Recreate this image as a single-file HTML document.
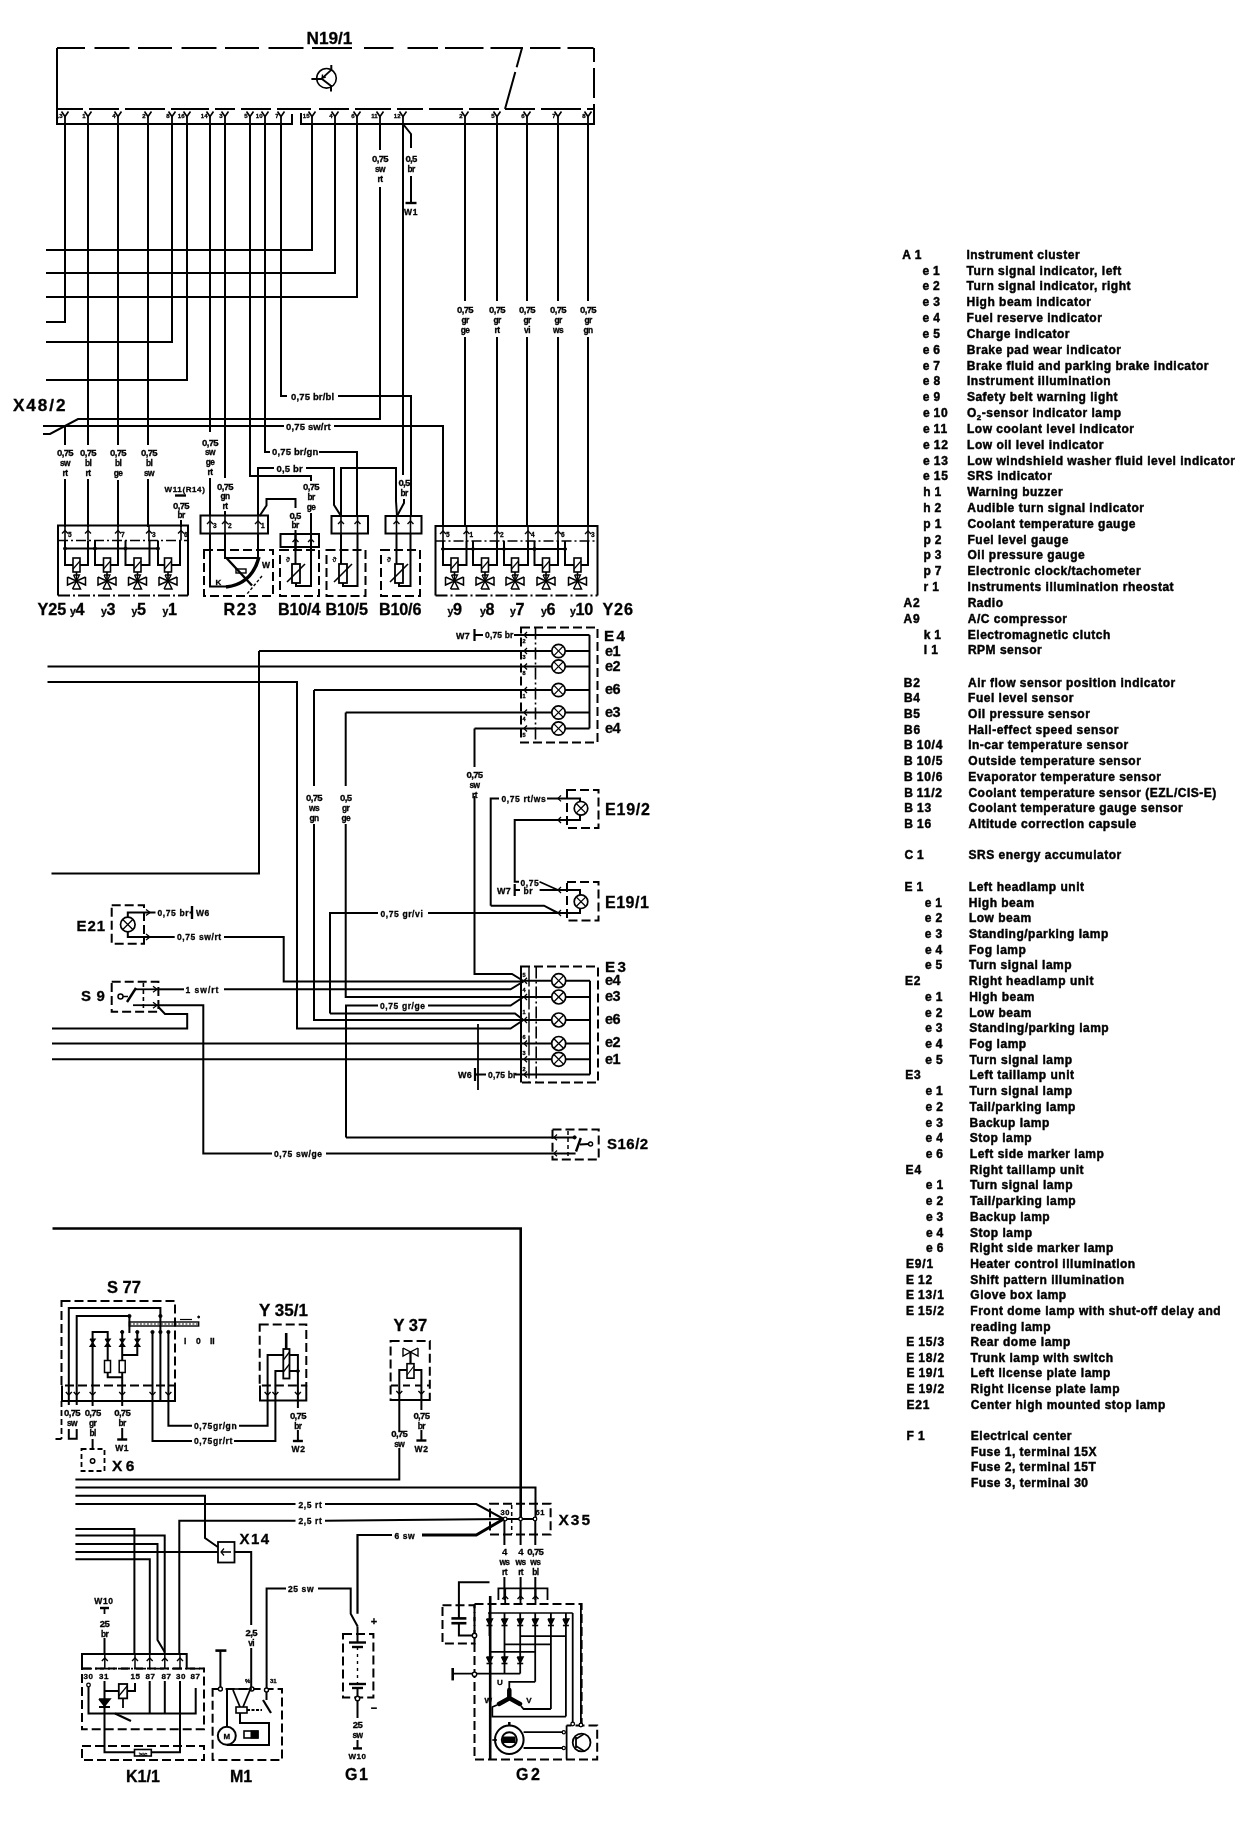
<!DOCTYPE html>
<html><head><meta charset="utf-8"><style>
html,body{margin:0;padding:0;background:#fff;}
body{width:1247px;height:1828px;overflow:hidden;}
svg{display:block;will-change:transform;}
svg text{font-family:"Liberation Sans",sans-serif;fill:#000;stroke:#000;stroke-width:0.3px;}
svg text.n{letter-spacing:0.6px;}
svg text.m{letter-spacing:0.15px;}
svg text.n0{letter-spacing:-0.7px;}
svg text.n1{letter-spacing:-0.6px;}
svg g.leg text{letter-spacing:0.5px;stroke:#000;stroke-width:0.45px;}
</style></head><body>
<svg width="1247" height="1828" viewBox="0 0 1247 1828" stroke="#000" stroke-linecap="butt" stroke-linejoin="miter">
<text x="306.5" y="44" font-size="17.2" font-weight="bold">N19/1</text>
<path d="M57 48 L303.5 48" stroke-width="2" fill="none" stroke-dasharray="28 9.5 35 8.5 34 9.5 35 8.5 34 9.5 36 9"/>
<path d="M312 48 L352 48" stroke-width="2" fill="none"/>
<path d="M364 48 L594 48" stroke-width="2" fill="none" stroke-dasharray="29.5 14 30.5 7 38.5 7 32.5 7 30.5 7 26"/>
<path d="M57 48 L57 109" stroke-width="2" fill="none"/>
<path d="M594 48 L594 109" stroke-width="2" fill="none" stroke-dasharray="14 6 30 6 20"/>
<path d="M57 109 L594 109" stroke-width="2" fill="none" stroke-dasharray="26 6 30 6 40 6 38 6 20 6 30 6 34 8 30 6 36 6 26 6 34 6 30 6 30 6 40 6 40 6"/>
<path d="M522 48 L505 109" stroke-width="2" fill="none" stroke-dasharray="20 5 40"/>
<circle cx="326.5" cy="78.3" r="9.8" stroke-width="1.6" fill="none"/>
<path d="M311.4 79 L322 79" stroke-width="2" fill="none"/>
<path d="M322 78.3 L331.3 69.8" stroke-width="1.8" fill="none"/>
<path d="M322 79 L330.5 85.5" stroke-width="2" fill="none"/>
<path d="M331.3 65 L331.3 70.5" stroke-width="2" fill="none"/>
<path d="M331 85 L331 91.5" stroke-width="2" fill="none"/>
<path d="M322.5 74.5 L322.2 78 L325.8 77" stroke-width="1.4" fill="none"/>
<path d="M57 109 L57 124 L292 124 L292 114" stroke-width="2" fill="none"/>
<path d="M301 113 L301 124 L594 124 L594 109" stroke-width="2" fill="none"/>
<path d="M61.5 111.5 L65 116.5 L68.5 111.5" stroke-width="1.6" fill="none"/>
<path d="M65 116.5 L65 124" stroke-width="1.8" fill="none"/>
<text x="62.5" y="117.5" font-size="6" font-weight="bold" text-anchor="end">13</text>
<path d="M84.5 111.5 L88 116.5 L91.5 111.5" stroke-width="1.6" fill="none"/>
<path d="M88 116.5 L88 124" stroke-width="1.8" fill="none"/>
<text x="85.5" y="117.5" font-size="6" font-weight="bold" text-anchor="end">1</text>
<path d="M114.5 111.5 L118 116.5 L121.5 111.5" stroke-width="1.6" fill="none"/>
<path d="M118 116.5 L118 124" stroke-width="1.8" fill="none"/>
<text x="115.5" y="117.5" font-size="6" font-weight="bold" text-anchor="end">4</text>
<path d="M144.5 111.5 L148 116.5 L151.5 111.5" stroke-width="1.6" fill="none"/>
<path d="M148 116.5 L148 124" stroke-width="1.8" fill="none"/>
<text x="145.5" y="117.5" font-size="6" font-weight="bold" text-anchor="end">2</text>
<path d="M168.5 111.5 L172 116.5 L175.5 111.5" stroke-width="1.6" fill="none"/>
<path d="M172 116.5 L172 124" stroke-width="1.8" fill="none"/>
<text x="169.5" y="117.5" font-size="6" font-weight="bold" text-anchor="end">8</text>
<path d="M183.5 111.5 L187 116.5 L190.5 111.5" stroke-width="1.6" fill="none"/>
<path d="M187 116.5 L187 124" stroke-width="1.8" fill="none"/>
<text x="184.5" y="117.5" font-size="6" font-weight="bold" text-anchor="end">16</text>
<path d="M206.5 111.5 L210 116.5 L213.5 111.5" stroke-width="1.6" fill="none"/>
<path d="M210 116.5 L210 124" stroke-width="1.8" fill="none"/>
<text x="207.5" y="117.5" font-size="6" font-weight="bold" text-anchor="end">14</text>
<path d="M221.5 111.5 L225 116.5 L228.5 111.5" stroke-width="1.6" fill="none"/>
<path d="M225 116.5 L225 124" stroke-width="1.8" fill="none"/>
<text x="222.5" y="117.5" font-size="6" font-weight="bold" text-anchor="end">3</text>
<path d="M246.5 111.5 L250 116.5 L253.5 111.5" stroke-width="1.6" fill="none"/>
<path d="M250 116.5 L250 124" stroke-width="1.8" fill="none"/>
<text x="247.5" y="117.5" font-size="6" font-weight="bold" text-anchor="end">5</text>
<path d="M261.5 111.5 L265 116.5 L268.5 111.5" stroke-width="1.6" fill="none"/>
<path d="M265 116.5 L265 124" stroke-width="1.8" fill="none"/>
<text x="262.5" y="117.5" font-size="6" font-weight="bold" text-anchor="end">10</text>
<path d="M277.5 111.5 L281 116.5 L284.5 111.5" stroke-width="1.6" fill="none"/>
<path d="M281 116.5 L281 124" stroke-width="1.8" fill="none"/>
<text x="278.5" y="117.5" font-size="6" font-weight="bold" text-anchor="end">7</text>
<path d="M308.5 111.5 L312 116.5 L315.5 111.5" stroke-width="1.6" fill="none"/>
<path d="M312 116.5 L312 124" stroke-width="1.8" fill="none"/>
<text x="309.5" y="117.5" font-size="6" font-weight="bold" text-anchor="end">15</text>
<path d="M331.5 111.5 L335 116.5 L338.5 111.5" stroke-width="1.6" fill="none"/>
<path d="M335 116.5 L335 124" stroke-width="1.8" fill="none"/>
<text x="332.5" y="117.5" font-size="6" font-weight="bold" text-anchor="end">4</text>
<path d="M353.5 111.5 L357 116.5 L360.5 111.5" stroke-width="1.6" fill="none"/>
<path d="M357 116.5 L357 124" stroke-width="1.8" fill="none"/>
<text x="354.5" y="117.5" font-size="6" font-weight="bold" text-anchor="end">6</text>
<path d="M376.5 111.5 L380 116.5 L383.5 111.5" stroke-width="1.6" fill="none"/>
<path d="M380 116.5 L380 124" stroke-width="1.8" fill="none"/>
<text x="377.5" y="117.5" font-size="6" font-weight="bold" text-anchor="end">11</text>
<path d="M399.5 111.5 L403 116.5 L406.5 111.5" stroke-width="1.6" fill="none"/>
<path d="M403 116.5 L403 124" stroke-width="1.8" fill="none"/>
<text x="400.5" y="117.5" font-size="6" font-weight="bold" text-anchor="end">12</text>
<path d="M461.5 111.5 L465 116.5 L468.5 111.5" stroke-width="1.6" fill="none"/>
<path d="M465 116.5 L465 124" stroke-width="1.8" fill="none"/>
<text x="462.5" y="117.5" font-size="6" font-weight="bold" text-anchor="end">2</text>
<path d="M493.5 111.5 L497 116.5 L500.5 111.5" stroke-width="1.6" fill="none"/>
<path d="M497 116.5 L497 124" stroke-width="1.8" fill="none"/>
<text x="494.5" y="117.5" font-size="6" font-weight="bold" text-anchor="end">5</text>
<path d="M523.5 111.5 L527 116.5 L530.5 111.5" stroke-width="1.6" fill="none"/>
<path d="M527 116.5 L527 124" stroke-width="1.8" fill="none"/>
<text x="524.5" y="117.5" font-size="6" font-weight="bold" text-anchor="end">6</text>
<path d="M554.5 111.5 L558 116.5 L561.5 111.5" stroke-width="1.6" fill="none"/>
<path d="M558 116.5 L558 124" stroke-width="1.8" fill="none"/>
<text x="555.5" y="117.5" font-size="6" font-weight="bold" text-anchor="end">7</text>
<path d="M584.5 111.5 L588 116.5 L591.5 111.5" stroke-width="1.6" fill="none"/>
<path d="M588 116.5 L588 124" stroke-width="1.8" fill="none"/>
<text x="585.5" y="117.5" font-size="6" font-weight="bold" text-anchor="end">8</text>
<path d="M65 124 L65 322 L46 322" stroke-width="2" fill="none"/>
<path d="M88 124 L88 445" stroke-width="2" fill="none"/>
<path d="M88 479 L88 527" stroke-width="2" fill="none"/>
<path d="M118 124 L118 445" stroke-width="2" fill="none"/>
<path d="M118 480 L118 527" stroke-width="2" fill="none"/>
<path d="M148 124 L148 445" stroke-width="2" fill="none"/>
<path d="M148 479 L148 527" stroke-width="2" fill="none"/>
<path d="M172 124 L172 342 L46 342" stroke-width="2" fill="none"/>
<path d="M187 124 L187 380 L46 380" stroke-width="2" fill="none"/>
<path d="M210 124 L210 432" stroke-width="2" fill="none"/>
<path d="M210 478 L210 516" stroke-width="2" fill="none"/>
<path d="M225 124 L225 478" stroke-width="2" fill="none"/>
<path d="M225 511 L225 516" stroke-width="2" fill="none"/>
<path d="M250 124 L250 476 L311 476 L311 481" stroke-width="2" fill="none"/>
<path d="M311 513 L311 535" stroke-width="2" fill="none"/>
<path d="M265 124 L265 452 L270 452" stroke-width="2" fill="none"/>
<path d="M319 452 L357 452 L357 516" stroke-width="2" fill="none"/>
<path d="M281 124 L281 396 L287 396" stroke-width="2" fill="none"/>
<path d="M338 396 L411 396 L411 516" stroke-width="2" fill="none"/>
<path d="M312 124 L312 250 L46 250" stroke-width="2" fill="none"/>
<path d="M335 124 L335 273 L46 273" stroke-width="2" fill="none"/>
<path d="M357 124 L357 297 L46 297" stroke-width="2" fill="none"/>
<path d="M380 124 L380 150" stroke-width="2" fill="none"/>
<path d="M380 187 L380 419 L78 419 L50 434 L43 434" stroke-width="2" fill="none"/>
<path d="M403 124 L403 475" stroke-width="2" fill="none"/>
<path d="M404 499 L404 503 L397 516" stroke-width="2" fill="none"/>
<path d="M403 124 L411 134 L411 148" stroke-width="2" fill="none"/>
<path d="M411 176 L411 203" stroke-width="2" fill="none"/>
<path d="M405.5 203 L416.5 203" stroke-width="2.4" fill="none"/>
<text x="411" y="215" font-size="8.5" font-weight="bold" text-anchor="middle" class="n">W1</text>
<text x="380" y="161.5" font-size="9.6" font-weight="bold" text-anchor="middle" class="n0">0,75</text>
<text x="380" y="171.7" font-size="8.4" font-weight="bold" text-anchor="middle" class="n1">sw</text>
<text x="380" y="181.9" font-size="8.4" font-weight="bold" text-anchor="middle" class="n1">rt</text>
<text x="411" y="161.5" font-size="9.6" font-weight="bold" text-anchor="middle" class="n0">0,5</text>
<text x="411" y="171.7" font-size="8.4" font-weight="bold" text-anchor="middle" class="n1">br</text>
<path d="M465 124 L465 301" stroke-width="2" fill="none"/>
<path d="M465 337 L465 527" stroke-width="2" fill="none"/>
<text x="465" y="313" font-size="9.6" font-weight="bold" text-anchor="middle" class="n0">0,75</text>
<text x="465" y="323.2" font-size="8.4" font-weight="bold" text-anchor="middle" class="n1">gr</text>
<text x="465" y="333.4" font-size="8.4" font-weight="bold" text-anchor="middle" class="n1">ge</text>
<path d="M497 124 L497 301" stroke-width="2" fill="none"/>
<path d="M497 337 L497 527" stroke-width="2" fill="none"/>
<text x="497" y="313" font-size="9.6" font-weight="bold" text-anchor="middle" class="n0">0,75</text>
<text x="497" y="323.2" font-size="8.4" font-weight="bold" text-anchor="middle" class="n1">gr</text>
<text x="497" y="333.4" font-size="8.4" font-weight="bold" text-anchor="middle" class="n1">rt</text>
<path d="M527 124 L527 301" stroke-width="2" fill="none"/>
<path d="M527 337 L527 527" stroke-width="2" fill="none"/>
<text x="527" y="313" font-size="9.6" font-weight="bold" text-anchor="middle" class="n0">0,75</text>
<text x="527" y="323.2" font-size="8.4" font-weight="bold" text-anchor="middle" class="n1">gr</text>
<text x="527" y="333.4" font-size="8.4" font-weight="bold" text-anchor="middle" class="n1">vi</text>
<path d="M558 124 L558 301" stroke-width="2" fill="none"/>
<path d="M558 337 L558 527" stroke-width="2" fill="none"/>
<text x="558" y="313" font-size="9.6" font-weight="bold" text-anchor="middle" class="n0">0,75</text>
<text x="558" y="323.2" font-size="8.4" font-weight="bold" text-anchor="middle" class="n1">gr</text>
<text x="558" y="333.4" font-size="8.4" font-weight="bold" text-anchor="middle" class="n1">ws</text>
<path d="M588 124 L588 301" stroke-width="2" fill="none"/>
<path d="M588 337 L588 527" stroke-width="2" fill="none"/>
<text x="588" y="313" font-size="9.6" font-weight="bold" text-anchor="middle" class="n0">0,75</text>
<text x="588" y="323.2" font-size="8.4" font-weight="bold" text-anchor="middle" class="n1">gr</text>
<text x="588" y="333.4" font-size="8.4" font-weight="bold" text-anchor="middle" class="n1">gn</text>
<text x="13" y="411" font-size="17.2" font-weight="bold" letter-spacing="1.9">X48/2</text>
<path d="M43 426 L443 426 L443 527" stroke-width="2" fill="none"/>
<text x="286" y="429.5" font-size="9.5" font-weight="bold" class="m">0,75 sw/rt</text>
<rect x="284" y="420" width="50" height="12" fill="white" stroke="none"/>
<text x="286" y="429.5" font-size="9.5" font-weight="bold" class="m">0,75 sw/rt</text>
<rect x="290" y="390" width="47" height="12" fill="white" stroke="none"/>
<text x="291" y="399.5" font-size="9.5" font-weight="bold" class="m">0,75 br/bl</text>
<text x="272" y="455" font-size="9.5" font-weight="bold" class="m">0,75 br/gn</text>
<path d="M65 426 L65 445" stroke-width="2" fill="none"/>
<path d="M65 479 L65 527" stroke-width="2" fill="none"/>
<text x="65" y="455.7" font-size="9.6" font-weight="bold" text-anchor="middle" class="n0">0,75</text>
<text x="65" y="465.9" font-size="8.4" font-weight="bold" text-anchor="middle" class="n1">sw</text>
<text x="65" y="476.1" font-size="8.4" font-weight="bold" text-anchor="middle" class="n1">rt</text>
<text x="88" y="455.7" font-size="9.6" font-weight="bold" text-anchor="middle" class="n0">0,75</text>
<text x="88" y="465.9" font-size="8.4" font-weight="bold" text-anchor="middle" class="n1">bl</text>
<text x="88" y="476.1" font-size="8.4" font-weight="bold" text-anchor="middle" class="n1">rt</text>
<text x="118" y="455.7" font-size="9.6" font-weight="bold" text-anchor="middle" class="n0">0,75</text>
<text x="118" y="465.9" font-size="8.4" font-weight="bold" text-anchor="middle" class="n1">bl</text>
<text x="118" y="476.1" font-size="8.4" font-weight="bold" text-anchor="middle" class="n1">ge</text>
<text x="149" y="455.7" font-size="9.6" font-weight="bold" text-anchor="middle" class="n0">0,75</text>
<text x="149" y="465.9" font-size="8.4" font-weight="bold" text-anchor="middle" class="n1">bl</text>
<text x="149" y="476.1" font-size="8.4" font-weight="bold" text-anchor="middle" class="n1">sw</text>
<text x="210" y="445.5" font-size="9.6" font-weight="bold" text-anchor="middle" class="n0">0,75</text>
<text x="210" y="455.3" font-size="8.4" font-weight="bold" text-anchor="middle" class="n1">sw</text>
<text x="210" y="465.1" font-size="8.4" font-weight="bold" text-anchor="middle" class="n1">ge</text>
<text x="210" y="474.9" font-size="8.4" font-weight="bold" text-anchor="middle" class="n1">rt</text>
<text x="225" y="489.5" font-size="9.6" font-weight="bold" text-anchor="middle" class="n0">0,75</text>
<text x="225" y="499.3" font-size="8.4" font-weight="bold" text-anchor="middle" class="n1">gn</text>
<text x="225" y="509.1" font-size="8.4" font-weight="bold" text-anchor="middle" class="n1">rt</text>
<text x="311" y="490" font-size="9.6" font-weight="bold" text-anchor="middle" class="n0">0,75</text>
<text x="311" y="499.8" font-size="8.4" font-weight="bold" text-anchor="middle" class="n1">br</text>
<text x="311" y="509.6" font-size="8.4" font-weight="bold" text-anchor="middle" class="n1">ge</text>
<text x="185" y="492" font-size="8" font-weight="bold" text-anchor="middle" class="n">W11(R14)</text>
<path d="M175 495.5 L186 495.5" stroke-width="2.4" fill="none"/>
<text x="181" y="508.5" font-size="9.6" font-weight="bold" text-anchor="middle" class="n0">0,75</text>
<text x="181" y="518.3" font-size="8.4" font-weight="bold" text-anchor="middle" class="n1">br</text>
<path d="M181 520 L181 527" stroke-width="2" fill="none"/>
<path d="M258 516 L258 468 L274 468" stroke-width="2" fill="none"/>
<text x="276.5" y="471.5" font-size="9.5" font-weight="bold" class="m">0,5 br</text>
<path d="M306 468 L334 468 L334 505 L341 516" stroke-width="2" fill="none"/>
<path d="M341 516 L341 468 L396 468 L396 501 L397 516" stroke-width="2" fill="none"/>
<path d="M259.5 516 L266.5 505.5 L266.5 499 L295.5 499 L295.5 508" stroke-width="2" fill="none"/>
<text x="295" y="518.5" font-size="9.6" font-weight="bold" text-anchor="middle" class="n0">0,5</text>
<text x="295" y="528.3" font-size="8.4" font-weight="bold" text-anchor="middle" class="n1">br</text>
<path d="M295.5 530 L295.5 535" stroke-width="2" fill="none"/>
<text x="404" y="486" font-size="9.6" font-weight="bold" text-anchor="middle" class="n0">0,5</text>
<text x="404" y="495.8" font-size="8.4" font-weight="bold" text-anchor="middle" class="n1">br</text>
<path d="M58 595.5 L58 525.5 L188 525.5 L188 595.5" stroke-width="2" fill="none"/>
<path d="M58 540.5 L188 540.5" stroke-width="1.6" fill="none" stroke-dasharray="10 3 2 3"/>
<path d="M58 595.5 L188 595.5" stroke-width="2" fill="none" stroke-dasharray="12 3 2 3"/>
<path d="M62 533.5 L65 530.5 L68 533.5" stroke-width="1.4" fill="none"/>
<path d="M65 525.5 L65 540.5" stroke-width="1.6" fill="none"/>
<text x="68" y="536.5" font-size="6.5" font-weight="bold">5</text>
<path d="M85 533.5 L88 530.5 L91 533.5" stroke-width="1.4" fill="none"/>
<path d="M88 525.5 L88 540.5" stroke-width="1.6" fill="none"/>
<path d="M115 533.5 L118 530.5 L121 533.5" stroke-width="1.4" fill="none"/>
<path d="M118 525.5 L118 540.5" stroke-width="1.6" fill="none"/>
<text x="121" y="536.5" font-size="6.5" font-weight="bold">7</text>
<path d="M146 533.5 L149 530.5 L152 533.5" stroke-width="1.4" fill="none"/>
<path d="M149 525.5 L149 540.5" stroke-width="1.6" fill="none"/>
<text x="152" y="536.5" font-size="6.5" font-weight="bold">3</text>
<path d="M178 533.5 L181 530.5 L184 533.5" stroke-width="1.4" fill="none"/>
<path d="M181 525.5 L181 540.5" stroke-width="1.6" fill="none"/>
<text x="184" y="536.5" font-size="6.5" font-weight="bold">6</text>
<path d="M65 548.5 L158 548.5" stroke-width="2" fill="none"/>
<path d="M65 540.5 L65 565 L88 565 L88 540.5" stroke-width="2" fill="none"/>
<rect x="73" y="558" width="7" height="14" stroke-width="1.6" fill="white"/>
<path d="M73 569 L80 561" stroke-width="1.2" fill="none"/>
<path d="M76.5 572 L76.5 581" stroke-width="1.6" fill="none"/>
<path d="M67.5 577 L67.5 585 L76.5 581 L67.5 577" stroke-width="1.5" fill="none"/>
<path d="M85.5 577 L85.5 585 L76.5 581 L85.5 577" stroke-width="1.5" fill="none"/>
<path d="M72.5 589 L80.5 589 L76.5 581 L72.5 589" stroke-width="1.5" fill="none"/>
<path d="M73.5 575 L79.5 575 L76.5 581 L73.5 575" stroke-width="1.3" fill="none"/>
<circle cx="65" cy="548.5" r="1.5" stroke-width="1" fill="black"/>
<path d="M95 540.5 L95 565 L118 565 L118 540.5" stroke-width="2" fill="none"/>
<rect x="103.5" y="558" width="7" height="14" stroke-width="1.6" fill="white"/>
<path d="M103.5 569 L110.5 561" stroke-width="1.2" fill="none"/>
<path d="M107 572 L107 581" stroke-width="1.6" fill="none"/>
<path d="M98 577 L98 585 L107 581 L98 577" stroke-width="1.5" fill="none"/>
<path d="M116 577 L116 585 L107 581 L116 577" stroke-width="1.5" fill="none"/>
<path d="M103 589 L111 589 L107 581 L103 589" stroke-width="1.5" fill="none"/>
<path d="M104 575 L110 575 L107 581 L104 575" stroke-width="1.3" fill="none"/>
<circle cx="95" cy="548.5" r="1.5" stroke-width="1" fill="black"/>
<path d="M125.5 540.5 L125.5 565 L149.5 565 L149.5 540.5" stroke-width="2" fill="none"/>
<rect x="134" y="558" width="7" height="14" stroke-width="1.6" fill="white"/>
<path d="M134 569 L141 561" stroke-width="1.2" fill="none"/>
<path d="M137.5 572 L137.5 581" stroke-width="1.6" fill="none"/>
<path d="M128.5 577 L128.5 585 L137.5 581 L128.5 577" stroke-width="1.5" fill="none"/>
<path d="M146.5 577 L146.5 585 L137.5 581 L146.5 577" stroke-width="1.5" fill="none"/>
<path d="M133.5 589 L141.5 589 L137.5 581 L133.5 589" stroke-width="1.5" fill="none"/>
<path d="M134.5 575 L140.5 575 L137.5 581 L134.5 575" stroke-width="1.3" fill="none"/>
<circle cx="125.5" cy="548.5" r="1.5" stroke-width="1" fill="black"/>
<path d="M158 540.5 L158 565 L180 565 L180 540.5" stroke-width="2" fill="none"/>
<rect x="164.5" y="558" width="7" height="14" stroke-width="1.6" fill="white"/>
<path d="M164.5 569 L171.5 561" stroke-width="1.2" fill="none"/>
<path d="M168 572 L168 581" stroke-width="1.6" fill="none"/>
<path d="M159 577 L159 585 L168 581 L159 577" stroke-width="1.5" fill="none"/>
<path d="M177 577 L177 585 L168 581 L177 577" stroke-width="1.5" fill="none"/>
<path d="M164 589 L172 589 L168 581 L164 589" stroke-width="1.5" fill="none"/>
<path d="M165 575 L171 575 L168 581 L165 575" stroke-width="1.3" fill="none"/>
<circle cx="158" cy="548.5" r="1.5" stroke-width="1" fill="black"/>
<path d="M435.5 595.5 L435.5 526 L597.5 526 L597.5 595.5" stroke-width="2" fill="none"/>
<path d="M435.5 541 L597.5 541" stroke-width="1.6" fill="none" stroke-dasharray="10 3 2 3"/>
<path d="M435.5 595.5 L597.5 595.5" stroke-width="2" fill="none" stroke-dasharray="12 3 2 3"/>
<path d="M440 534 L443 531 L446 534" stroke-width="1.4" fill="none"/>
<path d="M443 526 L443 541" stroke-width="1.6" fill="none"/>
<text x="446" y="537" font-size="6.5" font-weight="bold">5</text>
<path d="M463.5 534 L466.5 531 L469.5 534" stroke-width="1.4" fill="none"/>
<path d="M466.5 526 L466.5 541" stroke-width="1.6" fill="none"/>
<text x="469.5" y="537" font-size="6.5" font-weight="bold">1</text>
<path d="M494 534 L497 531 L500 534" stroke-width="1.4" fill="none"/>
<path d="M497 526 L497 541" stroke-width="1.6" fill="none"/>
<text x="500" y="537" font-size="6.5" font-weight="bold">2</text>
<path d="M525 534 L528 531 L531 534" stroke-width="1.4" fill="none"/>
<path d="M528 526 L528 541" stroke-width="1.6" fill="none"/>
<text x="531" y="537" font-size="6.5" font-weight="bold">4</text>
<path d="M555 534 L558 531 L561 534" stroke-width="1.4" fill="none"/>
<path d="M558 526 L558 541" stroke-width="1.6" fill="none"/>
<text x="561" y="537" font-size="6.5" font-weight="bold">6</text>
<path d="M585 534 L588 531 L591 534" stroke-width="1.4" fill="none"/>
<path d="M588 526 L588 541" stroke-width="1.6" fill="none"/>
<text x="591" y="537" font-size="6.5" font-weight="bold">3</text>
<path d="M443 549 L565 549" stroke-width="2" fill="none"/>
<path d="M443 541 L443 565 L466.5 565 L466.5 541" stroke-width="2" fill="none"/>
<rect x="451" y="558" width="7" height="14" stroke-width="1.6" fill="white"/>
<path d="M451 569 L458 561" stroke-width="1.2" fill="none"/>
<path d="M454.5 572 L454.5 581" stroke-width="1.6" fill="none"/>
<path d="M445.5 577 L445.5 585 L454.5 581 L445.5 577" stroke-width="1.5" fill="none"/>
<path d="M463.5 577 L463.5 585 L454.5 581 L463.5 577" stroke-width="1.5" fill="none"/>
<path d="M450.5 589 L458.5 589 L454.5 581 L450.5 589" stroke-width="1.5" fill="none"/>
<path d="M451.5 575 L457.5 575 L454.5 581 L451.5 575" stroke-width="1.3" fill="none"/>
<circle cx="443" cy="549" r="1.5" stroke-width="1" fill="black"/>
<path d="M473 541 L473 565 L497 565 L497 541" stroke-width="2" fill="none"/>
<rect x="481.5" y="558" width="7" height="14" stroke-width="1.6" fill="white"/>
<path d="M481.5 569 L488.5 561" stroke-width="1.2" fill="none"/>
<path d="M485 572 L485 581" stroke-width="1.6" fill="none"/>
<path d="M476 577 L476 585 L485 581 L476 577" stroke-width="1.5" fill="none"/>
<path d="M494 577 L494 585 L485 581 L494 577" stroke-width="1.5" fill="none"/>
<path d="M481 589 L489 589 L485 581 L481 589" stroke-width="1.5" fill="none"/>
<path d="M482 575 L488 575 L485 581 L482 575" stroke-width="1.3" fill="none"/>
<circle cx="473" cy="549" r="1.5" stroke-width="1" fill="black"/>
<path d="M504 541 L504 565 L528 565 L528 541" stroke-width="2" fill="none"/>
<rect x="511.5" y="558" width="7" height="14" stroke-width="1.6" fill="white"/>
<path d="M511.5 569 L518.5 561" stroke-width="1.2" fill="none"/>
<path d="M515 572 L515 581" stroke-width="1.6" fill="none"/>
<path d="M506 577 L506 585 L515 581 L506 577" stroke-width="1.5" fill="none"/>
<path d="M524 577 L524 585 L515 581 L524 577" stroke-width="1.5" fill="none"/>
<path d="M511 589 L519 589 L515 581 L511 589" stroke-width="1.5" fill="none"/>
<path d="M512 575 L518 575 L515 581 L512 575" stroke-width="1.3" fill="none"/>
<circle cx="504" cy="549" r="1.5" stroke-width="1" fill="black"/>
<path d="M534.5 541 L534.5 565 L558 565 L558 541" stroke-width="2" fill="none"/>
<rect x="542.5" y="558" width="7" height="14" stroke-width="1.6" fill="white"/>
<path d="M542.5 569 L549.5 561" stroke-width="1.2" fill="none"/>
<path d="M546 572 L546 581" stroke-width="1.6" fill="none"/>
<path d="M537 577 L537 585 L546 581 L537 577" stroke-width="1.5" fill="none"/>
<path d="M555 577 L555 585 L546 581 L555 577" stroke-width="1.5" fill="none"/>
<path d="M542 589 L550 589 L546 581 L542 589" stroke-width="1.5" fill="none"/>
<path d="M543 575 L549 575 L546 581 L543 575" stroke-width="1.3" fill="none"/>
<circle cx="534.5" cy="549" r="1.5" stroke-width="1" fill="black"/>
<path d="M565 541 L565 565 L588 565 L588 541" stroke-width="2" fill="none"/>
<rect x="574" y="558" width="7" height="14" stroke-width="1.6" fill="white"/>
<path d="M574 569 L581 561" stroke-width="1.2" fill="none"/>
<path d="M577.5 572 L577.5 581" stroke-width="1.6" fill="none"/>
<path d="M568.5 577 L568.5 585 L577.5 581 L568.5 577" stroke-width="1.5" fill="none"/>
<path d="M586.5 577 L586.5 585 L577.5 581 L586.5 577" stroke-width="1.5" fill="none"/>
<path d="M573.5 589 L581.5 589 L577.5 581 L573.5 589" stroke-width="1.5" fill="none"/>
<path d="M574.5 575 L580.5 575 L577.5 581 L574.5 575" stroke-width="1.3" fill="none"/>
<circle cx="565" cy="549" r="1.5" stroke-width="1" fill="black"/>
<rect x="200.5" y="515.5" width="67.5" height="18" stroke-width="2" fill="none"/>
<path d="M207 524 L210 521 L213 524" stroke-width="1.4" fill="none"/>
<path d="M210 516 L210 533" stroke-width="1.6" fill="none"/>
<text x="213" y="528" font-size="6.5" font-weight="bold">3</text>
<path d="M222 524 L225 521 L228 524" stroke-width="1.4" fill="none"/>
<path d="M225 516 L225 533" stroke-width="1.6" fill="none"/>
<text x="228" y="528" font-size="6.5" font-weight="bold">2</text>
<path d="M255 524 L258 521 L261 524" stroke-width="1.4" fill="none"/>
<path d="M258 516 L258 533" stroke-width="1.6" fill="none"/>
<text x="261" y="528" font-size="6.5" font-weight="bold">1</text>
<rect x="204" y="550" width="69" height="46" stroke-width="2" fill="none" stroke-dasharray="9 4"/>
<path d="M210 533 L210 586.5 L228 586.5" stroke-width="2" fill="none"/>
<path d="M225 533 L225 558 L258 558 L258 533" stroke-width="2" fill="none"/>
<path d="M259 557 Q252 584 226 587" stroke-width="3.5" fill="none"/>
<path d="M226 557.5 L252 585.5" stroke-width="2.4" fill="none"/>
<rect x="236" y="569" width="10" height="4" stroke-width="1.4" fill="none"/>
<path d="M262 576 L247 594" stroke-width="1.4" fill="none" stroke-dasharray="3 2"/>
<text x="218.5" y="585" font-size="8" font-weight="bold" text-anchor="middle">K</text>
<text x="266" y="568" font-size="8.5" font-weight="bold" text-anchor="middle">W</text>
<text x="223.5" y="614.6" font-size="16.2" font-weight="bold" letter-spacing="1.6">R23</text>
<rect x="280.5" y="534" width="38.5" height="13" stroke-width="2" fill="none"/>
<path d="M292.5 542 L295.5 539 L298.5 542" stroke-width="1.4" fill="none"/>
<path d="M308 542 L311 539 L314 542" stroke-width="1.4" fill="none"/>
<path d="M295.5 534 L295.5 550" stroke-width="2" fill="none"/>
<path d="M311 534 L311 550" stroke-width="2" fill="none"/>
<rect x="280" y="550" width="39" height="46" stroke-width="2" fill="none" stroke-dasharray="9 4"/>
<rect x="292" y="564" width="8" height="19" stroke-width="1.8" fill="white"/>
<path d="M287 582 L305 564" stroke-width="1.6" fill="none"/>
<path d="M295.5 533 L295.5 564" stroke-width="2" fill="none"/>
<path d="M311 533 L311 586 L296 586 L296 583" stroke-width="2" fill="none"/>
<text x="286" y="562" font-size="7">ϑ</text>
<rect x="331.5" y="516" width="36.5" height="17.5" stroke-width="2" fill="none"/>
<path d="M338 524 L341 521 L344 524" stroke-width="1.4" fill="none"/>
<path d="M341 516 L341 533.5" stroke-width="1.6" fill="none"/>
<path d="M354.5 524 L357.5 521 L360.5 524" stroke-width="1.4" fill="none"/>
<path d="M357.5 516 L357.5 533.5" stroke-width="1.6" fill="none"/>
<rect x="326.5" y="550" width="39" height="46" stroke-width="2" fill="none" stroke-dasharray="9 4"/>
<rect x="339" y="564" width="8" height="19" stroke-width="1.8" fill="white"/>
<path d="M334 582 L352 564" stroke-width="1.6" fill="none"/>
<path d="M341 533 L341 564" stroke-width="2" fill="none"/>
<path d="M357.5 533 L357.5 586 L343 586 L343 583" stroke-width="2" fill="none"/>
<text x="332.5" y="562" font-size="7">ϑ</text>
<rect x="385.5" y="516" width="36" height="17.5" stroke-width="2" fill="none"/>
<path d="M393.5 524 L396.5 521 L399.5 524" stroke-width="1.4" fill="none"/>
<path d="M396.5 516 L396.5 533.5" stroke-width="1.6" fill="none"/>
<path d="M407.5 524 L410.5 521 L413.5 524" stroke-width="1.4" fill="none"/>
<path d="M410.5 516 L410.5 533.5" stroke-width="1.6" fill="none"/>
<rect x="381" y="550" width="39" height="46" stroke-width="2" fill="none" stroke-dasharray="9 4"/>
<rect x="395" y="564" width="8" height="19" stroke-width="1.8" fill="white"/>
<path d="M390 582 L408 564" stroke-width="1.6" fill="none"/>
<path d="M396.5 533 L396.5 564" stroke-width="2" fill="none"/>
<path d="M410.5 533 L410.5 586 L399 586 L399 583" stroke-width="2" fill="none"/>
<text x="387" y="562" font-size="7">ϑ</text>
<text x="278" y="614.6" font-size="16.2" font-weight="bold" letter-spacing="-0.2">B10/4</text>
<text x="325.5" y="614.6" font-size="16.2" font-weight="bold" letter-spacing="-0.2">B10/5</text>
<text x="379" y="614.6" font-size="16.2" font-weight="bold" letter-spacing="-0.2">B10/6</text>
<text x="37.5" y="614.6" font-size="16.2" font-weight="bold">Y25</text>
<text x="70" y="614.6" font-size="16.2" font-weight="bold" letter-spacing="-0.3"><tspan font-size="10.5">y</tspan>4</text>
<text x="101" y="614.6" font-size="16.2" font-weight="bold" letter-spacing="-0.3"><tspan font-size="10.5">y</tspan>3</text>
<text x="131.5" y="614.6" font-size="16.2" font-weight="bold" letter-spacing="-0.3"><tspan font-size="10.5">y</tspan>5</text>
<text x="162.5" y="614.6" font-size="16.2" font-weight="bold" letter-spacing="-0.3"><tspan font-size="10.5">y</tspan>1</text>
<text x="447.5" y="614.6" font-size="16.2" font-weight="bold" letter-spacing="-0.3"><tspan font-size="10.5">y</tspan>9</text>
<text x="480" y="614.6" font-size="16.2" font-weight="bold" letter-spacing="-0.3"><tspan font-size="10.5">y</tspan>8</text>
<text x="510" y="614.6" font-size="16.2" font-weight="bold" letter-spacing="-0.3"><tspan font-size="10.5">y</tspan>7</text>
<text x="541" y="614.6" font-size="16.2" font-weight="bold" letter-spacing="-0.3"><tspan font-size="10.5">y</tspan>6</text>
<text x="570" y="614.6" font-size="16.2" font-weight="bold" letter-spacing="-0.3"><tspan font-size="10.5">y</tspan>10</text>
<text x="602.5" y="614.6" font-size="16.2" font-weight="bold" letter-spacing="0.8">Y26</text>
<rect x="521" y="627.5" width="76.5" height="115" stroke-width="2" fill="none" stroke-dasharray="9 4"/>
<path d="M535.5 627.5 L535.5 742.5" stroke-width="1.6" fill="none" stroke-dasharray="12 3 2 3"/>
<path d="M589.5 635 L589.5 728.5" stroke-width="2" fill="none"/>
<path d="M523 635 L589.5 635" stroke-width="2" fill="none"/>
<path d="M527 632 L524 635 L527 638" stroke-width="1.3" fill="none"/>
<text x="522.5" y="643" font-size="5.5" font-weight="bold">2</text>
<path d="M523 651 L589.5 651" stroke-width="2" fill="none"/>
<path d="M527 648 L524 651 L527 654" stroke-width="1.3" fill="none"/>
<text x="522.5" y="659" font-size="5.5" font-weight="bold">3</text>
<path d="M523 666.5 L589.5 666.5" stroke-width="2" fill="none"/>
<path d="M527 663.5 L524 666.5 L527 669.5" stroke-width="1.3" fill="none"/>
<text x="522.5" y="674.5" font-size="5.5" font-weight="bold">8</text>
<path d="M523 690 L589.5 690" stroke-width="2" fill="none"/>
<path d="M527 687 L524 690 L527 693" stroke-width="1.3" fill="none"/>
<text x="522.5" y="698" font-size="5.5" font-weight="bold">1</text>
<path d="M523 712.5 L589.5 712.5" stroke-width="2" fill="none"/>
<path d="M527 709.5 L524 712.5 L527 715.5" stroke-width="1.3" fill="none"/>
<text x="522.5" y="720.5" font-size="5.5" font-weight="bold">4</text>
<path d="M523 728.5 L589.5 728.5" stroke-width="2" fill="none"/>
<path d="M527 725.5 L524 728.5 L527 731.5" stroke-width="1.3" fill="none"/>
<text x="522.5" y="736.5" font-size="5.5" font-weight="bold">5</text>
<circle cx="558.5" cy="651" r="6.7" stroke-width="1.7" fill="white"/>
<path d="M553.9 646.4 L563.1 655.6" stroke-width="1.3" fill="none"/>
<path d="M553.9 655.6 L563.1 646.4" stroke-width="1.3" fill="none"/>
<circle cx="558.5" cy="666.5" r="6.7" stroke-width="1.7" fill="white"/>
<path d="M553.9 661.9 L563.1 671.1" stroke-width="1.3" fill="none"/>
<path d="M553.9 671.1 L563.1 661.9" stroke-width="1.3" fill="none"/>
<circle cx="558.5" cy="690" r="6.7" stroke-width="1.7" fill="white"/>
<path d="M553.9 685.4 L563.1 694.6" stroke-width="1.3" fill="none"/>
<path d="M553.9 694.6 L563.1 685.4" stroke-width="1.3" fill="none"/>
<circle cx="558.5" cy="712.5" r="6.7" stroke-width="1.7" fill="white"/>
<path d="M553.9 707.9 L563.1 717.1" stroke-width="1.3" fill="none"/>
<path d="M553.9 717.1 L563.1 707.9" stroke-width="1.3" fill="none"/>
<circle cx="558.5" cy="728.5" r="6.7" stroke-width="1.7" fill="white"/>
<path d="M553.9 723.9 L563.1 733.1" stroke-width="1.3" fill="none"/>
<path d="M553.9 733.1 L563.1 723.9" stroke-width="1.3" fill="none"/>
<text x="604" y="641.4" font-size="15.2" font-weight="bold" letter-spacing="2.3">E4</text>
<text x="605" y="656" font-size="14.5" font-weight="bold" letter-spacing="-0.6">e1</text>
<text x="605" y="671" font-size="14.5" font-weight="bold" letter-spacing="-0.6">e2</text>
<text x="605" y="694.2" font-size="14.5" font-weight="bold" letter-spacing="-0.6">e6</text>
<text x="605" y="717.2" font-size="14.5" font-weight="bold" letter-spacing="-0.6">e3</text>
<text x="605" y="733.3" font-size="14.5" font-weight="bold" letter-spacing="-0.6">e4</text>
<text x="456" y="638.5" font-size="9" font-weight="bold" class="m">W7</text>
<path d="M474.5 629 L474.5 641" stroke-width="2.2" fill="none"/>
<path d="M474.5 635 L483 635" stroke-width="2" fill="none"/>
<text x="485" y="638.3" font-size="8.5" font-weight="bold" class="m">0,75 br</text>
<path d="M514 635 L523 635" stroke-width="2" fill="none"/>
<path d="M259 651 L259 873.5 L51.5 873.5" stroke-width="2" fill="none"/>
<path d="M259 651 L523 651" stroke-width="2" fill="none"/>
<path d="M47.5 666.5 L523 666.5" stroke-width="2" fill="none"/>
<path d="M47.5 682 L297 682 L297 1028.5 L510.6 1028.5 L523.4 1020" stroke-width="2" fill="none"/>
<path d="M314 690 L523 690" stroke-width="2" fill="none"/>
<path d="M314 690 L314 786" stroke-width="2" fill="none"/>
<path d="M314 824 L314 1020 L523 1020" stroke-width="2" fill="none"/>
<path d="M345.7 712.5 L523 712.5" stroke-width="2" fill="none"/>
<path d="M345.7 712.5 L345.7 786" stroke-width="2" fill="none"/>
<path d="M345.7 824 L345.7 997 L523 997" stroke-width="2" fill="none"/>
<text x="314" y="801" font-size="9.6" font-weight="bold" text-anchor="middle" class="n0">0,75</text>
<text x="314" y="811.2" font-size="8.4" font-weight="bold" text-anchor="middle" class="n1">ws</text>
<text x="314" y="821.4" font-size="8.4" font-weight="bold" text-anchor="middle" class="n1">gn</text>
<text x="345.7" y="801" font-size="9.6" font-weight="bold" text-anchor="middle" class="n0">0,5</text>
<text x="345.7" y="811.2" font-size="8.4" font-weight="bold" text-anchor="middle" class="n1">gr</text>
<text x="345.7" y="821.4" font-size="8.4" font-weight="bold" text-anchor="middle" class="n1">ge</text>
<path d="M474.5 728.5 L523 728.5" stroke-width="2" fill="none"/>
<path d="M474.5 728.5 L474.5 767" stroke-width="2" fill="none"/>
<path d="M474.5 796 L474.5 974 L512 974 L523.4 981" stroke-width="2" fill="none"/>
<text x="474.5" y="778" font-size="9.6" font-weight="bold" text-anchor="middle" class="n0">0,75</text>
<text x="474.5" y="788.2" font-size="8.4" font-weight="bold" text-anchor="middle" class="n1">sw</text>
<text x="474.5" y="798.4" font-size="8.4" font-weight="bold" text-anchor="middle" class="n1">rt</text>
<rect x="567" y="790" width="31.5" height="38" stroke-width="2" fill="none" stroke-dasharray="9 4"/>
<circle cx="581" cy="808.3" r="6.8" stroke-width="1.7" fill="white"/>
<path d="M576.4 803.7 L585.6 812.9" stroke-width="1.3" fill="none"/>
<path d="M576.4 812.9 L585.6 803.7" stroke-width="1.3" fill="none"/>
<path d="M490.7 905.7 L490.7 798.4 L499 798.4" stroke-width="2" fill="none"/>
<text x="501.5" y="801.5" font-size="8.5" font-weight="bold" class="n">0,75 rt/ws</text>
<path d="M547 798.4 L580 798.4 L580 801.5" stroke-width="2" fill="none"/>
<path d="M561 795.4 L558 798.4 L561 801.4" stroke-width="1.3" fill="none"/>
<path d="M580 815 L580 820 L514.7 820 L514.7 881.8 L519 881.8" stroke-width="2" fill="none"/>
<path d="M561 817 L558 820 L561 823" stroke-width="1.3" fill="none"/>
<text x="520.5" y="885.5" font-size="8.5" font-weight="bold" class="n">0,75</text>
<path d="M539.5 881.8 L558 890" stroke-width="1.8" fill="none"/>
<rect x="567" y="882" width="31.5" height="38.5" stroke-width="2" fill="none" stroke-dasharray="9 4"/>
<circle cx="581" cy="901.7" r="6.8" stroke-width="1.7" fill="white"/>
<path d="M576.4 897.1 L585.6 906.3" stroke-width="1.3" fill="none"/>
<path d="M576.4 906.3 L585.6 897.1" stroke-width="1.3" fill="none"/>
<text x="497" y="894" font-size="9" font-weight="bold" class="m">W7</text>
<path d="M514.7 884 L514.7 896" stroke-width="2.2" fill="none"/>
<path d="M514.7 890 L520 890" stroke-width="2" fill="none"/>
<text x="523.5" y="893.5" font-size="8.5" font-weight="bold" class="n">br</text>
<path d="M539.6 890 L580 890 L580 895" stroke-width="2" fill="none"/>
<path d="M561 887 L558 890 L561 893" stroke-width="1.3" fill="none"/>
<path d="M490.7 905.7 L544 905.7 L558 913" stroke-width="2" fill="none"/>
<path d="M330 1013.5 L330 913 L378 913" stroke-width="2" fill="none"/>
<text x="380.5" y="916.5" font-size="8.5" font-weight="bold" class="n">0,75 gr/vi</text>
<path d="M428 913 L580 913 L580 908.5" stroke-width="2" fill="none"/>
<path d="M561 910 L558 913 L561 916" stroke-width="1.3" fill="none"/>
<text x="605" y="815.3" font-size="16" font-weight="bold" letter-spacing="0.8">E19/2</text>
<text x="605" y="907.6" font-size="16" font-weight="bold" letter-spacing="0.5">E19/1</text>
<rect x="111.7" y="905.3" width="32.3" height="38.4" stroke-width="2" fill="none" stroke-dasharray="9 4"/>
<circle cx="127.8" cy="924.5" r="7.3" stroke-width="1.7" fill="white"/>
<path d="M122.8 919.5 L132.8 929.5" stroke-width="1.3" fill="none"/>
<path d="M122.8 929.5 L132.8 919.5" stroke-width="1.3" fill="none"/>
<path d="M127.8 917 L127.8 912.5 L155.5 912.5" stroke-width="2" fill="none"/>
<path d="M146 909.5 L150 912.5 L146 915.5" stroke-width="1.3" fill="none"/>
<text x="157.5" y="915.8" font-size="8.5" font-weight="bold" class="n">0,75 br</text>
<path d="M189.5 912.5 L192 912.5" stroke-width="2" fill="none"/>
<path d="M192 906 L192 919" stroke-width="2.4" fill="none"/>
<text x="196" y="915.8" font-size="8.5" font-weight="bold" class="n">W6</text>
<path d="M127.8 932 L127.8 937 L174.7 937" stroke-width="2" fill="none"/>
<path d="M146 934 L150 937 L146 940" stroke-width="1.3" fill="none"/>
<text x="177" y="940.3" font-size="8.5" font-weight="bold" class="n">0,75 sw/rt</text>
<path d="M224 937 L283.7 937 L283.7 981.5 L523.4 981.5" stroke-width="2" fill="none"/>
<text x="76.5" y="930.5" font-size="15" font-weight="bold" letter-spacing="1">E21</text>
<rect x="111.7" y="981.7" width="46.7" height="30" stroke-width="2" fill="none" stroke-dasharray="9 4"/>
<path d="M143.4 983 L143.4 1011" stroke-width="1.6" fill="none" stroke-dasharray="4 3"/>
<circle cx="120.5" cy="996.5" r="2.5" stroke-width="1.5" fill="none"/>
<path d="M123 996.5 L128 996.5" stroke-width="1.5" fill="none"/>
<path d="M127 1002 L136 988" stroke-width="2.4" fill="none"/>
<path d="M136 989.3 L158 989.3" stroke-width="1.8" fill="none"/>
<path d="M133 1005.2 L158 1005.2" stroke-width="1.8" fill="none"/>
<path d="M153 986.3 L157 989.3 L153 992.3" stroke-width="1.3" fill="none"/>
<path d="M153 1002.2 L157 1005.2 L153 1008.2" stroke-width="1.3" fill="none"/>
<path d="M158 989.3 L184 989.3" stroke-width="2" fill="none"/>
<text x="185.5" y="992.6" font-size="8.5" font-weight="bold" letter-spacing="1">1 sw/rt</text>
<path d="M224 989.3 L510.6 989.3 L523.4 981.5" stroke-width="2" fill="none"/>
<path d="M158 1005.2 L203.3 1005.2 L203.3 1153.4 L230 1153.4" stroke-width="2" fill="none"/>
<path d="M158.4 1007 L165 1014 L187.2 1014 L187.2 1028.6 L52 1028.6" stroke-width="2" fill="none"/>
<text x="81" y="1001.4" font-size="15" font-weight="bold" letter-spacing="5.5">S9</text>
<path d="M52 1043.5 L523 1043.5" stroke-width="2" fill="none"/>
<path d="M52 1059.3 L523 1059.3" stroke-width="2" fill="none"/>
<rect x="521" y="966.5" width="77" height="116" stroke-width="2" fill="none" stroke-dasharray="9 4"/>
<path d="M521 966.5 L521 1082.5" stroke-width="2" fill="none"/>
<path d="M529 966.5 L529 1082.5" stroke-width="1.4" fill="none" stroke-dasharray="20 3"/>
<path d="M536.2 966.5 L536.2 1082.5" stroke-width="1.6" fill="none" stroke-dasharray="12 3 2 3"/>
<path d="M590 980.7 L590 1074.5" stroke-width="2" fill="none"/>
<path d="M523 980.7 L590 980.7" stroke-width="2" fill="none"/>
<path d="M527 977.7 L524 980.7 L527 983.7" stroke-width="1.3" fill="none"/>
<path d="M523 997 L590 997" stroke-width="2" fill="none"/>
<path d="M527 994 L524 997 L527 1000" stroke-width="1.3" fill="none"/>
<path d="M523 1020 L590 1020" stroke-width="2" fill="none"/>
<path d="M527 1017 L524 1020 L527 1023" stroke-width="1.3" fill="none"/>
<path d="M523 1043.5 L590 1043.5" stroke-width="2" fill="none"/>
<path d="M527 1040.5 L524 1043.5 L527 1046.5" stroke-width="1.3" fill="none"/>
<path d="M523 1059.3 L590 1059.3" stroke-width="2" fill="none"/>
<path d="M527 1056.3 L524 1059.3 L527 1062.3" stroke-width="1.3" fill="none"/>
<path d="M523 1074.5 L590 1074.5" stroke-width="2" fill="none"/>
<path d="M527 1071.5 L524 1074.5 L527 1077.5" stroke-width="1.3" fill="none"/>
<circle cx="558.7" cy="980.7" r="7" stroke-width="1.7" fill="white"/>
<path d="M553.9 975.9 L563.5 985.5" stroke-width="1.3" fill="none"/>
<path d="M553.9 985.5 L563.5 975.9" stroke-width="1.3" fill="none"/>
<circle cx="558.7" cy="997" r="7" stroke-width="1.7" fill="white"/>
<path d="M553.9 992.2 L563.5 1001.8" stroke-width="1.3" fill="none"/>
<path d="M553.9 1001.8 L563.5 992.2" stroke-width="1.3" fill="none"/>
<circle cx="558.7" cy="1020" r="7" stroke-width="1.7" fill="white"/>
<path d="M553.9 1015.2 L563.5 1024.8" stroke-width="1.3" fill="none"/>
<path d="M553.9 1024.8 L563.5 1015.2" stroke-width="1.3" fill="none"/>
<circle cx="558.7" cy="1043.5" r="7" stroke-width="1.7" fill="white"/>
<path d="M553.9 1038.7 L563.5 1048.3" stroke-width="1.3" fill="none"/>
<path d="M553.9 1048.3 L563.5 1038.7" stroke-width="1.3" fill="none"/>
<circle cx="558.7" cy="1059.3" r="7" stroke-width="1.7" fill="white"/>
<path d="M553.9 1054.5 L563.5 1064.1" stroke-width="1.3" fill="none"/>
<path d="M553.9 1064.1 L563.5 1054.5" stroke-width="1.3" fill="none"/>
<text x="522.5" y="977" font-size="5.5" font-weight="bold">5</text>
<text x="522.5" y="992" font-size="5.5" font-weight="bold">4</text>
<text x="522.5" y="1014" font-size="5.5" font-weight="bold">1</text>
<text x="522.5" y="1039" font-size="5.5" font-weight="bold">6</text>
<text x="522.5" y="1055" font-size="5.5" font-weight="bold">3</text>
<text x="522.5" y="1071" font-size="5.5" font-weight="bold">2</text>
<path d="M346 1137.4 L346 1005.5 L378 1005.5" stroke-width="2" fill="none"/>
<text x="380" y="1008.8" font-size="8.5" font-weight="bold" class="n">0,75 gr/ge</text>
<path d="M428 1005.5 L510.6 1005.5 L523.4 997" stroke-width="2" fill="none"/>
<path d="M330 1013.5 L515 1013.5 L523.4 1020" stroke-width="2" fill="none"/>
<path d="M478 1024 L478 1090" stroke-width="1.8" fill="none"/>
<text x="458" y="1078" font-size="9" font-weight="bold" class="m">W6</text>
<path d="M475 1074.5 L478 1074.5" stroke-width="2.2" fill="none"/>
<path d="M475 1068 L475 1081" stroke-width="2.2" fill="none"/>
<path d="M478 1074.5 L486 1074.5" stroke-width="2" fill="none"/>
<text x="488" y="1078" font-size="8.5" font-weight="bold" class="m">0,75 br</text>
<path d="M515 1074.5 L523 1074.5" stroke-width="2" fill="none"/>
<text x="605" y="972" font-size="15.2" font-weight="bold" letter-spacing="2.3">E3</text>
<text x="605" y="985" font-size="14.5" font-weight="bold" letter-spacing="-0.6">e4</text>
<text x="605" y="1000.7" font-size="14.5" font-weight="bold" letter-spacing="-0.6">e3</text>
<text x="605" y="1023.8" font-size="14.5" font-weight="bold" letter-spacing="-0.6">e6</text>
<text x="605" y="1047" font-size="14.5" font-weight="bold" letter-spacing="-0.6">e2</text>
<text x="605" y="1063.9" font-size="14.5" font-weight="bold" letter-spacing="-0.6">e1</text>
<path d="M346 1137.4 L574.6 1137.4" stroke-width="2" fill="none"/>
<path d="M230 1153.4 L272 1153.4" stroke-width="2" fill="none"/>
<text x="274" y="1156.6" font-size="8.5" font-weight="bold" class="n">0,75 sw/ge</text>
<path d="M326 1153.4 L575.6 1153.4" stroke-width="2" fill="none"/>
<rect x="552.5" y="1129.6" width="46.2" height="29.9" stroke-width="2" fill="none" stroke-dasharray="9 4"/>
<path d="M568 1131 L568 1158" stroke-width="1.5" fill="none" stroke-dasharray="4 3"/>
<circle cx="574.6" cy="1137.4" r="1.6" stroke-width="1" fill="black"/>
<path d="M557 1134.5 L554 1137.4 L557 1140.3" stroke-width="1.2" fill="none"/>
<path d="M557 1150.5 L554 1153.4 L557 1156.3" stroke-width="1.2" fill="none"/>
<path d="M576 1151.5 L580.8 1138" stroke-width="2.4" fill="none"/>
<path d="M580 1144.5 L588.5 1144" stroke-width="2" fill="none"/>
<circle cx="590.6" cy="1144" r="2" stroke-width="1.4" fill="white"/>
<text x="607" y="1149" font-size="15" font-weight="bold" letter-spacing="0.5">S16/2</text>
<path d="M52.5 1228.5 L520.7 1228.5 L520.7 1519" stroke-width="2.6" fill="none"/>
<text x="107" y="1293.3" font-size="16.5" font-weight="bold">S 77</text>
<rect x="61.5" y="1301" width="113.5" height="84.5" stroke-width="2" fill="none" stroke-dasharray="9 4"/>
<path d="M62 1385.5 L62 1401 L175 1401 L175 1385.5" stroke-width="2" fill="none"/>
<path d="M61.5 1401 L61.5 1439" stroke-width="1.8" fill="none" stroke-dasharray="6 3"/>
<path d="M55.5 1439 L61.5 1439" stroke-width="2" fill="none"/>
<path d="M68.8 1401 L68.8 1308 L160.4 1308 L160.4 1401" stroke-width="2" fill="none"/>
<path d="M76.7 1401 L76.7 1316 L129.4 1316 L129.4 1333" stroke-width="2" fill="none"/>
<rect x="129.4" y="1322" width="69.3" height="4" stroke-width="1.4" fill="none"/>
<path d="M129.4 1324 L198.7 1324" stroke-width="1.2" fill="none" stroke-dasharray="2 1.5"/>
<path d="M180 1319.5 L192 1319.5" stroke-width="1.2" fill="none"/>
<circle cx="198.7" cy="1317" r="1" stroke-width="1" fill="black"/>
<path d="M90 1339 L95.2 1339 L90 1346.5 L95.2 1346.5 L90 1339" stroke-width="1.2" fill="black"/>
<path d="M105.1 1339 L110.3 1339 L105.1 1346.5 L110.3 1346.5 L105.1 1339" stroke-width="1.2" fill="black"/>
<path d="M119.6 1339 L124.8 1339 L119.6 1346.5 L124.8 1346.5 L119.6 1339" stroke-width="1.2" fill="black"/>
<path d="M134.7 1339 L139.9 1339 L134.7 1346.5 L139.9 1346.5 L134.7 1339" stroke-width="1.2" fill="black"/>
<path d="M92.6 1401 L92.6 1332 L107.7 1332 L107.7 1360.5" stroke-width="2" fill="none"/>
<rect x="104.5" y="1360.5" width="6" height="12" stroke-width="1.5" fill="white"/>
<rect x="119.2" y="1360.5" width="6" height="12" stroke-width="1.5" fill="white"/>
<path d="M107.7 1372.5 L107.7 1377.3 L122.2 1377.3" stroke-width="2" fill="none"/>
<path d="M122.2 1332 L122.2 1360.5" stroke-width="2" fill="none"/>
<path d="M122.2 1372.5 L122.2 1401" stroke-width="2" fill="none"/>
<path d="M137.3 1332 L137.3 1355 L122.2 1355" stroke-width="2" fill="none"/>
<path d="M152.5 1332 L152.5 1401" stroke-width="2" fill="none"/>
<path d="M168.4 1332 L168.4 1401" stroke-width="2" fill="none"/>
<circle cx="122.2" cy="1332" r="1.6" stroke-width="1" fill="black"/>
<circle cx="137.3" cy="1332" r="1.6" stroke-width="1" fill="black"/>
<circle cx="152.5" cy="1332" r="1.6" stroke-width="1" fill="black"/>
<circle cx="160.4" cy="1332" r="1.6" stroke-width="1" fill="black"/>
<circle cx="168.4" cy="1332" r="1.6" stroke-width="1" fill="black"/>
<circle cx="129.4" cy="1316" r="1.6" stroke-width="1" fill="black"/>
<circle cx="160.4" cy="1316" r="1.6" stroke-width="1" fill="black"/>
<text x="184" y="1344" font-size="8.5" font-weight="bold">I</text>
<text x="196" y="1344" font-size="8.5" font-weight="bold">0</text>
<text x="210" y="1344" font-size="8.5" font-weight="bold">II</text>
<path d="M65.8 1392 L68.8 1395 L71.8 1392" stroke-width="1.4" fill="none"/>
<path d="M73.7 1392 L76.7 1395 L79.7 1392" stroke-width="1.4" fill="none"/>
<path d="M89.6 1392 L92.6 1395 L95.6 1392" stroke-width="1.4" fill="none"/>
<path d="M119.2 1392 L122.2 1395 L125.2 1392" stroke-width="1.4" fill="none"/>
<path d="M149.5 1392 L152.5 1395 L155.5 1392" stroke-width="1.4" fill="none"/>
<path d="M165.4 1392 L168.4 1395 L171.4 1392" stroke-width="1.4" fill="none"/>
<path d="M68.8 1401 L68.8 1438.7 L76.7 1438.7 L76.7 1401" stroke-width="2" fill="none"/>
<rect x="63" y="1405" width="20" height="24" fill="white" stroke="none"/>
<text x="72" y="1415.6" font-size="9.6" font-weight="bold" text-anchor="middle" class="n0">0,75</text>
<text x="72" y="1425.7" font-size="8.4" font-weight="bold" text-anchor="middle" class="n1">sw</text>
<path d="M92.6 1401 L92.6 1406" stroke-width="2" fill="none"/>
<path d="M92.6 1439 L92.6 1450" stroke-width="2" fill="none"/>
<text x="92.6" y="1415.6" font-size="9.6" font-weight="bold" text-anchor="middle" class="n0">0,75</text>
<text x="92.6" y="1425.7" font-size="8.4" font-weight="bold" text-anchor="middle" class="n1">gr</text>
<text x="92.6" y="1435.8" font-size="8.4" font-weight="bold" text-anchor="middle" class="n1">bl</text>
<path d="M122.2 1401 L122.2 1406" stroke-width="2" fill="none"/>
<path d="M122.2 1428 L122.2 1439" stroke-width="2" fill="none"/>
<text x="122.2" y="1415.6" font-size="9.6" font-weight="bold" text-anchor="middle" class="n0">0,75</text>
<text x="122.2" y="1425.7" font-size="8.4" font-weight="bold" text-anchor="middle" class="n1">br</text>
<path d="M117.2 1439.5 L127.2 1439.5" stroke-width="2.4" fill="none"/>
<text x="122.2" y="1451" font-size="8.5" font-weight="bold" text-anchor="middle" class="n">W1</text>
<rect x="81.5" y="1449" width="23" height="22" stroke-width="1.8" fill="none" stroke-dasharray="5 3"/>
<circle cx="92.6" cy="1461" r="2.2" stroke-width="1.5" fill="none"/>
<text x="112" y="1471" font-size="15.5" font-weight="bold" letter-spacing="3.5">X6</text>
<path d="M168.4 1401 L168.4 1425.8 L192 1425.8" stroke-width="2" fill="none"/>
<text x="194" y="1429" font-size="8.5" font-weight="bold" class="n">0,75gr/gn</text>
<path d="M239 1425.8 L267.6 1425.8 L267.6 1401" stroke-width="2" fill="none"/>
<path d="M152.5 1401 L152.5 1441 L192 1441" stroke-width="2" fill="none"/>
<text x="194" y="1444.3" font-size="8.5" font-weight="bold" class="n">0,75gr/rt</text>
<path d="M234 1441 L275.4 1441 L275.4 1401" stroke-width="2" fill="none"/>
<text x="259" y="1316" font-size="17" font-weight="bold">Y 35/1</text>
<rect x="259.7" y="1324.5" width="46.6" height="61" stroke-width="2" fill="none" stroke-dasharray="9 4"/>
<path d="M260 1385.5 L260 1400.5 L306.3 1400.5 L306.3 1385.5" stroke-width="2" fill="none"/>
<path d="M267.6 1401 L267.6 1355 L297.9 1355 L297.9 1401" stroke-width="2" fill="none"/>
<path d="M275.4 1401 L275.4 1371 L283.3 1371" stroke-width="2" fill="none"/>
<path d="M289.5 1371 L297.9 1371" stroke-width="2" fill="none"/>
<rect x="283.3" y="1349" width="6.2" height="29.5" stroke-width="1.8" fill="white"/>
<path d="M283.3 1360 L289.5 1352" stroke-width="1.3" fill="none"/>
<path d="M283.3 1372 L289.5 1364" stroke-width="1.3" fill="none"/>
<path d="M286.2 1333 L286.2 1349" stroke-width="2.6" fill="none"/>
<circle cx="297.9" cy="1371" r="1.5" stroke-width="1" fill="black"/>
<path d="M264.6 1392 L267.6 1395 L270.6 1392" stroke-width="1.4" fill="none"/>
<path d="M272.4 1392 L275.4 1395 L278.4 1392" stroke-width="1.4" fill="none"/>
<path d="M294.9 1392 L297.9 1395 L300.9 1392" stroke-width="1.4" fill="none"/>
<path d="M297.9 1401 L297.9 1408" stroke-width="2" fill="none"/>
<text x="297.9" y="1418.5" font-size="9.6" font-weight="bold" text-anchor="middle" class="n0">0,75</text>
<text x="297.9" y="1428.5" font-size="8.4" font-weight="bold" text-anchor="middle" class="n1">br</text>
<path d="M297.9 1430 L297.9 1441" stroke-width="2" fill="none"/>
<path d="M292.9 1441 L302.9 1441" stroke-width="2.4" fill="none"/>
<text x="298.5" y="1452" font-size="8.5" font-weight="bold" text-anchor="middle" class="n">W2</text>
<text x="393.5" y="1331.3" font-size="16.5" font-weight="bold">Y 37</text>
<rect x="390.6" y="1341" width="39.2" height="59" stroke-width="2" fill="none" stroke-dasharray="9 4"/>
<path d="M391 1400 L430 1400" stroke-width="2" fill="none"/>
<path d="M391 1385.4 L430 1385.4" stroke-width="2" fill="none" stroke-dasharray="7 5"/>
<path d="M399.3 1400 L399.3 1370 L407 1370" stroke-width="2" fill="none"/>
<path d="M414 1370 L421.4 1370 L421.4 1400" stroke-width="2" fill="none"/>
<rect x="407" y="1363.7" width="7" height="14.5" stroke-width="1.6" fill="white"/>
<path d="M407 1375 L414 1366" stroke-width="1.2" fill="none"/>
<path d="M410.5 1352 L410.5 1363.7" stroke-width="2.2" fill="none"/>
<path d="M403 1348 L403 1356 L410.5 1352 L403 1348" stroke-width="1.4" fill="none"/>
<path d="M418 1348 L418 1356 L410.5 1352 L418 1348" stroke-width="1.4" fill="none"/>
<path d="M396.3 1391 L399.3 1394 L402.3 1391" stroke-width="1.4" fill="none"/>
<path d="M418.4 1391 L421.4 1394 L424.4 1391" stroke-width="1.4" fill="none"/>
<path d="M399.3 1400 L399.3 1431" stroke-width="2" fill="none"/>
<text x="399.3" y="1437" font-size="9.6" font-weight="bold" text-anchor="middle" class="n0">0,75</text>
<text x="399.3" y="1446.8" font-size="8.4" font-weight="bold" text-anchor="middle" class="n1">sw</text>
<path d="M399.3 1448 L399.3 1479.6 L75.4 1479.6" stroke-width="2" fill="none"/>
<path d="M421.4 1400 L421.4 1410" stroke-width="2" fill="none"/>
<text x="421.4" y="1419" font-size="9.6" font-weight="bold" text-anchor="middle" class="n0">0,75</text>
<text x="421.4" y="1428.8" font-size="8.4" font-weight="bold" text-anchor="middle" class="n1">br</text>
<path d="M421.4 1430 L421.4 1440.5" stroke-width="2" fill="none"/>
<path d="M416.4 1440.5 L426.4 1440.5" stroke-width="2.4" fill="none"/>
<text x="421.5" y="1451.5" font-size="8.5" font-weight="bold" text-anchor="middle" class="n">W2</text>
<path d="M75.4 1487.4 L535.5 1487.4 L535.5 1519" stroke-width="2" fill="none"/>
<path d="M75.4 1495.7 L205 1495.7 L205 1538 L217.8 1547" stroke-width="2" fill="none"/>
<path d="M75.4 1504.1 L295.5 1504.1" stroke-width="2" fill="none"/>
<text x="298.5" y="1507.5" font-size="8.5" font-weight="bold" class="n">2,5 rt</text>
<path d="M325 1504.1 L476.3 1504.1 L503.7 1519" stroke-width="2" fill="none"/>
<path d="M179.3 1655 L179.3 1520.8 L295.5 1520.8" stroke-width="2" fill="none"/>
<text x="298.5" y="1524.2" font-size="8.5" font-weight="bold" class="n">2,5 rt</text>
<path d="M325 1520.8 L503.7 1519" stroke-width="2" fill="none"/>
<path d="M357.5 1613.7 L357.5 1535 L392 1535" stroke-width="2.2" fill="none"/>
<text x="394.5" y="1538.5" font-size="8.5" font-weight="bold" class="n">6 sw</text>
<path d="M422 1535 L476.3 1535 L503.7 1519" stroke-width="3" fill="none"/>
<rect x="490" y="1503.8" width="60.6" height="30.8" stroke-width="2" fill="none" stroke-dasharray="9 4"/>
<path d="M511.7 1505 L511.7 1534" stroke-width="1.5" fill="none" stroke-dasharray="4 3"/>
<path d="M505.2 1519 L535 1519" stroke-width="2" fill="none"/>
<circle cx="505.2" cy="1519" r="1.8" stroke-width="1.3" fill="white"/>
<circle cx="520.6" cy="1519" r="1.8" stroke-width="1.3" fill="white"/>
<circle cx="535" cy="1519" r="1.8" stroke-width="1.3" fill="white"/>
<text x="500.5" y="1515.4" font-size="7.5" font-weight="bold" class="n">30</text>
<text x="535.5" y="1515.4" font-size="7.5" font-weight="bold" class="n">61</text>
<text x="558.5" y="1524.7" font-size="15.5" font-weight="bold" letter-spacing="2">X35</text>
<path d="M504.4 1521 L504.4 1545" stroke-width="2" fill="none"/>
<text x="504.4" y="1555" font-size="9.6" font-weight="bold" text-anchor="middle" class="n0">4</text>
<text x="504.4" y="1564.8" font-size="8.4" font-weight="bold" text-anchor="middle" class="n1">ws</text>
<text x="504.4" y="1574.6" font-size="8.4" font-weight="bold" text-anchor="middle" class="n1">rt</text>
<path d="M504.4 1577 L504.4 1600" stroke-width="2" fill="none"/>
<path d="M520.6 1521 L520.6 1545" stroke-width="2" fill="none"/>
<text x="520.6" y="1555" font-size="9.6" font-weight="bold" text-anchor="middle" class="n0">4</text>
<text x="520.6" y="1564.8" font-size="8.4" font-weight="bold" text-anchor="middle" class="n1">ws</text>
<text x="520.6" y="1574.6" font-size="8.4" font-weight="bold" text-anchor="middle" class="n1">rt</text>
<path d="M520.6 1577 L520.6 1600" stroke-width="2" fill="none"/>
<path d="M535.3 1521 L535.3 1545" stroke-width="2" fill="none"/>
<text x="535.3" y="1555" font-size="9.6" font-weight="bold" text-anchor="middle" class="n0">0,75</text>
<text x="535.3" y="1564.8" font-size="8.4" font-weight="bold" text-anchor="middle" class="n1">ws</text>
<text x="535.3" y="1574.6" font-size="8.4" font-weight="bold" text-anchor="middle" class="n1">bl</text>
<path d="M535.3 1577 L535.3 1600" stroke-width="2" fill="none"/>
<path d="M75.4 1529 L134.4 1529 L134.4 1655" stroke-width="2" fill="none"/>
<path d="M75.4 1535.4 L164.7 1535.4 L164.7 1655" stroke-width="2" fill="none"/>
<path d="M75.4 1543.9 L157.5 1543.9 L157.5 1640 L164.7 1652" stroke-width="2" fill="none"/>
<path d="M75.4 1552 L217.8 1552" stroke-width="2" fill="none"/>
<path d="M234.5 1552 L251.2 1552 L251.2 1625" stroke-width="2" fill="none"/>
<text x="251.2" y="1636" font-size="9.6" font-weight="bold" text-anchor="middle" class="n0">2,5</text>
<text x="251.2" y="1645.6" font-size="8.4" font-weight="bold" text-anchor="middle" class="n1">vi</text>
<path d="M251.2 1648 L251.2 1689" stroke-width="2" fill="none"/>
<path d="M75.4 1559.3 L149.8 1559.3 L149.8 1655" stroke-width="2" fill="none"/>
<rect x="218" y="1542" width="16.5" height="20.5" stroke-width="1.8" fill="none"/>
<path d="M221 1552 L231 1552" stroke-width="1.6" fill="none"/>
<path d="M224 1548.5 L221 1552 L224 1555.5" stroke-width="1.2" fill="none"/>
<text x="239.5" y="1544.4" font-size="15" font-weight="bold" letter-spacing="1.5">X14</text>
<path d="M266.6 1690 L266.6 1588.6 L286 1588.6" stroke-width="2" fill="none"/>
<text x="288" y="1592" font-size="8.5" font-weight="bold" class="n">25 sw</text>
<path d="M318 1588.6 L350.7 1588.6 L350.7 1613.7 L357.7 1626.5" stroke-width="2" fill="none"/>
<text x="104" y="1604" font-size="8.5" font-weight="bold" text-anchor="middle" class="n">W10</text>
<path d="M100 1608 L109 1608" stroke-width="2.4" fill="none"/>
<path d="M104.5 1608 L104.5 1614" stroke-width="1.8" fill="none"/>
<text x="104.5" y="1626.5" font-size="9.6" font-weight="bold" text-anchor="middle" class="n0">25</text>
<text x="104.5" y="1636.5" font-size="8.4" font-weight="bold" text-anchor="middle" class="n1">br</text>
<path d="M104.5 1638 L104.5 1655" stroke-width="2" fill="none"/>
<path d="M82 1668.6 L82 1654 L186.7 1654 L186.7 1668" stroke-width="2" fill="none"/>
<path d="M82 1668.6 L204 1668.6" stroke-width="1.6" fill="none" stroke-dasharray="10 3 2 3"/>
<rect x="82" y="1668.6" width="122" height="60.7" stroke-width="2" fill="none" stroke-dasharray="9 4"/>
<rect x="82" y="1746" width="122" height="14" stroke-width="2" fill="none" stroke-dasharray="9 4"/>
<text x="88.5" y="1679" font-size="8" font-weight="bold" text-anchor="middle" class="n">30</text>
<text x="104" y="1679" font-size="8" font-weight="bold" text-anchor="middle" class="n">31</text>
<text x="135.5" y="1679" font-size="8" font-weight="bold" text-anchor="middle" class="n">15</text>
<text x="150.5" y="1679" font-size="8" font-weight="bold" text-anchor="middle" class="n">87</text>
<text x="166.5" y="1679" font-size="8" font-weight="bold" text-anchor="middle" class="n">87</text>
<text x="181" y="1679" font-size="8" font-weight="bold" text-anchor="middle" class="n">30</text>
<text x="195.5" y="1679" font-size="8" font-weight="bold" text-anchor="middle" class="n">87</text>
<path d="M101.8 1661 L104.8 1658 L107.8 1661" stroke-width="1.4" fill="none"/>
<path d="M104.8 1654 L104.8 1668" stroke-width="1.5" fill="none"/>
<path d="M132 1661 L135 1658 L138 1661" stroke-width="1.4" fill="none"/>
<path d="M135 1654 L135 1668" stroke-width="1.5" fill="none"/>
<path d="M146.7 1661 L149.7 1658 L152.7 1661" stroke-width="1.4" fill="none"/>
<path d="M149.7 1654 L149.7 1668" stroke-width="1.5" fill="none"/>
<path d="M161.8 1661 L164.8 1658 L167.8 1661" stroke-width="1.4" fill="none"/>
<path d="M164.8 1654 L164.8 1668" stroke-width="1.5" fill="none"/>
<path d="M177 1661 L180 1658 L183 1661" stroke-width="1.4" fill="none"/>
<path d="M180 1654 L180 1668" stroke-width="1.5" fill="none"/>
<circle cx="88.5" cy="1685" r="1.8" stroke-width="1.3" fill="none"/>
<path d="M88.5 1687 L88.5 1713.5 L195.7 1713.5 L195.7 1688" stroke-width="2" fill="none"/>
<path d="M104.5 1681 L104.5 1752.3 L180 1752.3 L180 1681" stroke-width="2" fill="none"/>
<path d="M104.5 1691 L118.8 1691" stroke-width="2" fill="none"/>
<rect x="118.8" y="1684" width="8.4" height="14.4" stroke-width="1.8" fill="white"/>
<path d="M118.8 1696 L127.2 1686" stroke-width="1.2" fill="none"/>
<path d="M127.2 1691 L135 1691 L135 1683" stroke-width="2" fill="none"/>
<path d="M99 1699 L110 1699 L104.5 1706 L99 1699" stroke-width="1.6" fill="black"/>
<path d="M99 1707 L110 1707" stroke-width="2" fill="none"/>
<path d="M123 1698.4 L123 1708" stroke-width="1.8" fill="none"/>
<path d="M115 1713.5 L131 1721" stroke-width="2.2" fill="none"/>
<path d="M149.7 1681 L149.7 1713.5" stroke-width="2" fill="none"/>
<path d="M164.8 1681 L164.8 1713.5" stroke-width="2" fill="none"/>
<rect x="134.5" y="1749.5" width="16.8" height="6.5" stroke-width="1.6" fill="white"/>
<text x="143" y="1755.5" font-size="6" font-weight="bold" text-anchor="middle">>ıc</text>
<text x="126" y="1782.3" font-size="16" font-weight="bold">K1/1</text>
<path d="M215.4 1650.6 L226.4 1650.6" stroke-width="2.6" fill="none"/>
<path d="M220.4 1650.6 L220.4 1687" stroke-width="2" fill="none"/>
<rect x="212.6" y="1689" width="69.4" height="71" stroke-width="2" fill="none" stroke-dasharray="9 4"/>
<circle cx="220.4" cy="1689" r="2" stroke-width="1.4" fill="white"/>
<circle cx="251.9" cy="1689" r="2" stroke-width="1.4" fill="white"/>
<circle cx="266.5" cy="1690" r="2" stroke-width="1.4" fill="white"/>
<text x="245" y="1683" font-size="6" font-weight="bold">%</text>
<text x="270" y="1683" font-size="6" font-weight="bold">31</text>
<path d="M227 1689 L252 1689" stroke-width="1.6" fill="none"/>
<path d="M227 1689 L227 1727" stroke-width="2" fill="none"/>
<path d="M233 1690 L240 1707" stroke-width="1.8" fill="none"/>
<path d="M250 1690 L243 1707" stroke-width="1.8" fill="none"/>
<rect x="236" y="1707" width="11" height="6" stroke-width="1.6" fill="white"/>
<path d="M247 1710 L262 1710" stroke-width="1.8" fill="none" stroke-dasharray="3 1.5"/>
<path d="M266.5 1692 L266.5 1700" stroke-width="2" fill="none"/>
<path d="M263 1700 L271 1713" stroke-width="2.2" fill="none"/>
<path d="M240 1713 L240 1723 L269 1723 L269 1745 L227 1745" stroke-width="2" fill="none"/>
<circle cx="226.8" cy="1735.8" r="9" stroke-width="2" fill="none"/>
<text x="226.8" y="1739" font-size="8" font-weight="bold" text-anchor="middle">M</text>
<rect x="244" y="1731" width="14" height="7" stroke-width="1.6" fill="white"/>
<rect x="251" y="1731" width="7" height="7" stroke-width="1" fill="black"/>
<text x="230" y="1781.7" font-size="16" font-weight="bold">M1</text>
<rect x="343" y="1634" width="30.4" height="63.4" stroke-width="2" fill="none" stroke-dasharray="9 4"/>
<path d="M357.5 1626.5 L357.5 1642.5" stroke-width="2" fill="none"/>
<path d="M349 1642.5 L366 1642.5" stroke-width="2.4" fill="none"/>
<path d="M352 1647 L363 1647" stroke-width="2.4" fill="none"/>
<path d="M357.5 1647 L357.5 1684" stroke-width="1.4" fill="none" stroke-dasharray="3 4"/>
<path d="M349 1684 L366 1684" stroke-width="2.4" fill="none"/>
<path d="M352 1688 L363 1688" stroke-width="2.4" fill="none"/>
<path d="M357.5 1688 L357.5 1698" stroke-width="2" fill="none"/>
<circle cx="357.5" cy="1698.5" r="2.2" stroke-width="1.4" fill="white"/>
<text x="374" y="1625" font-size="11" font-weight="bold" text-anchor="middle">+</text>
<text x="374" y="1712" font-size="11" font-weight="bold" text-anchor="middle">−</text>
<path d="M357.5 1701 L357.5 1718" stroke-width="2" fill="none"/>
<text x="357.5" y="1728" font-size="9.6" font-weight="bold" text-anchor="middle" class="n0">25</text>
<text x="357.5" y="1737.5" font-size="8.4" font-weight="bold" text-anchor="middle" class="n1">sw</text>
<path d="M357.5 1740 L357.5 1748.4" stroke-width="2" fill="none"/>
<path d="M353 1748.4 L362 1748.4" stroke-width="2.4" fill="none"/>
<text x="357.5" y="1759" font-size="8" font-weight="bold" text-anchor="middle" class="n">W10</text>
<text x="345" y="1779.7" font-size="16" font-weight="bold" letter-spacing="1.5">G1</text>
<path d="M498.4 1600 L498.4 1588.4 L547.5 1588.4 L547.5 1600" stroke-width="1.8" fill="none"/>
<path d="M502.2 1599 L505.2 1596 L508.2 1599" stroke-width="1.4" fill="none"/>
<path d="M505.2 1588 L505.2 1605" stroke-width="1.8" fill="none"/>
<path d="M517.5 1599 L520.5 1596 L523.5 1599" stroke-width="1.4" fill="none"/>
<path d="M520.5 1588 L520.5 1605" stroke-width="1.8" fill="none"/>
<path d="M532.5 1599 L535.5 1596 L538.5 1599" stroke-width="1.4" fill="none"/>
<path d="M535.5 1588 L535.5 1605" stroke-width="1.8" fill="none"/>
<path d="M489.5 1582.3 L458.9 1582.3 L458.9 1618.4" stroke-width="2" fill="none"/>
<path d="M451.4 1618.4 L466.4 1618.4" stroke-width="2.6" fill="none"/>
<path d="M451.4 1623.2 L466.4 1623.2" stroke-width="2.6" fill="none"/>
<path d="M458.9 1623.2 L458.9 1635.4 L472.5 1635.4" stroke-width="2" fill="none"/>
<rect x="442.5" y="1605.2" width="32" height="38.4" stroke-width="2" fill="none" stroke-dasharray="9 4"/>
<path d="M474.5 1604 L581.6 1604 L581.6 1725.4" stroke-width="2" fill="none" stroke-dasharray="9 4"/>
<path d="M474.5 1604 L474.5 1759.5 L597.2 1759.5 L597.2 1725.4 L566.6 1725.4" stroke-width="2" fill="none" stroke-dasharray="9 4"/>
<circle cx="474.5" cy="1635.4" r="2.2" stroke-width="1.4" fill="white"/>
<path d="M490.2 1596 L490.2 1759.5" stroke-width="2.6" fill="none"/>
<path d="M488 1613 L572.7 1613" stroke-width="1.6" fill="none"/>
<path d="M486.5 1619 L492.5 1619 L489.5 1625 L486.5 1619" stroke-width="1.4" fill="black"/>
<path d="M486.5 1625.5 L492.5 1625.5" stroke-width="1.6" fill="none"/>
<path d="M489.5 1613 L489.5 1636" stroke-width="1.8" fill="none"/>
<path d="M501.5 1619 L507.5 1619 L504.5 1625 L501.5 1619" stroke-width="1.4" fill="black"/>
<path d="M501.5 1625.5 L507.5 1625.5" stroke-width="1.6" fill="none"/>
<path d="M504.5 1613 L504.5 1636" stroke-width="1.8" fill="none"/>
<path d="M517.2 1619 L523.2 1619 L520.2 1625 L517.2 1619" stroke-width="1.4" fill="black"/>
<path d="M517.2 1625.5 L523.2 1625.5" stroke-width="1.6" fill="none"/>
<path d="M520.2 1613 L520.2 1636" stroke-width="1.8" fill="none"/>
<path d="M532.2 1619 L538.2 1619 L535.2 1625 L532.2 1619" stroke-width="1.4" fill="black"/>
<path d="M532.2 1625.5 L538.2 1625.5" stroke-width="1.6" fill="none"/>
<path d="M535.2 1613 L535.2 1636" stroke-width="1.8" fill="none"/>
<path d="M547.9 1619 L553.9 1619 L550.9 1625 L547.9 1619" stroke-width="1.4" fill="black"/>
<path d="M547.9 1625.5 L553.9 1625.5" stroke-width="1.6" fill="none"/>
<path d="M550.9 1613 L550.9 1636" stroke-width="1.8" fill="none"/>
<path d="M562.9 1619 L568.9 1619 L565.9 1625 L562.9 1619" stroke-width="1.4" fill="black"/>
<path d="M562.9 1625.5 L568.9 1625.5" stroke-width="1.6" fill="none"/>
<path d="M565.9 1613 L565.9 1636" stroke-width="1.8" fill="none"/>
<path d="M486.5 1657 L492.5 1657 L489.5 1663 L486.5 1657" stroke-width="1.4" fill="black"/>
<path d="M486.5 1663.5 L492.5 1663.5" stroke-width="1.6" fill="none"/>
<path d="M501.5 1657 L507.5 1657 L504.5 1663 L501.5 1657" stroke-width="1.4" fill="black"/>
<path d="M501.5 1663.5 L507.5 1663.5" stroke-width="1.6" fill="none"/>
<path d="M517.2 1657 L523.2 1657 L520.2 1663 L517.2 1657" stroke-width="1.4" fill="black"/>
<path d="M517.2 1663.5 L523.2 1663.5" stroke-width="1.6" fill="none"/>
<path d="M504.5 1636 L504.5 1673.6" stroke-width="1.8" fill="none"/>
<path d="M520.2 1636 L520.2 1673.6" stroke-width="1.8" fill="none"/>
<path d="M535.2 1636 L535.2 1681.8" stroke-width="1.8" fill="none"/>
<path d="M550.9 1636 L550.9 1709" stroke-width="1.8" fill="none"/>
<path d="M565.9 1636 L565.9 1716.6" stroke-width="1.8" fill="none"/>
<path d="M520.2 1636.1 L565.9 1636.1" stroke-width="1.8" fill="none"/>
<path d="M504.5 1644.3 L550.9 1644.3" stroke-width="1.8" fill="none"/>
<path d="M489.5 1651.8 L535.2 1651.8" stroke-width="1.8" fill="none"/>
<path d="M452.7 1673.6 L520.2 1673.6" stroke-width="1.8" fill="none"/>
<path d="M452.7 1668 L452.7 1680.4" stroke-width="2.6" fill="none"/>
<circle cx="474.5" cy="1674.3" r="2.2" stroke-width="1.4" fill="white"/>
<path d="M509.3 1689 L509.3 1681.8 L535.2 1681.8" stroke-width="1.8" fill="none"/>
<g stroke-width="4.5" stroke-linecap="round"><path d="M509.3 1690 L509.3 1697"/><path d="M508 1699 L499 1704"/><path d="M511 1699 L520 1704"/></g>
<path d="M521 1706 L523.6 1709 L550.9 1709" stroke-width="1.8" fill="none"/>
<path d="M497 1705 L492.3 1707 L492.3 1716.6 L565.9 1716.6" stroke-width="1.8" fill="none"/>
<text x="499.8" y="1685" font-size="8" font-weight="bold" text-anchor="middle">U</text>
<text x="488.2" y="1703" font-size="8" font-weight="bold" text-anchor="middle">W</text>
<text x="529" y="1703" font-size="8" font-weight="bold" text-anchor="middle">V</text>
<path d="M572.7 1613 L572.7 1723.4" stroke-width="1.8" fill="none"/>
<path d="M580.9 1604 L580.9 1724.7" stroke-width="1.8" fill="none"/>
<circle cx="572.7" cy="1724" r="1.8" stroke-width="1.3" fill="white"/>
<circle cx="580.9" cy="1725" r="1.8" stroke-width="1.3" fill="white"/>
<circle cx="509.3" cy="1739.7" r="14.3" stroke-width="2" fill="none"/>
<circle cx="509.3" cy="1739.7" r="7.5" stroke-width="2" fill="none"/>
<rect x="503" y="1737" width="12" height="5.5" stroke-width="1" fill="black"/>
<path d="M509.3 1722 L509.3 1726" stroke-width="2.5" fill="none"/>
<path d="M523.6 1732.2 L563.8 1732.2" stroke-width="1.8" fill="none"/>
<path d="M523.6 1748 L563.8 1748" stroke-width="1.8" fill="none"/>
<circle cx="563.8" cy="1732.2" r="1.6" stroke-width="1.2" fill="white"/>
<circle cx="563.8" cy="1748" r="1.6" stroke-width="1.2" fill="white"/>
<path d="M566.6 1725.4 L566.6 1759.5" stroke-width="1.8" fill="none"/>
<circle cx="581.6" cy="1742.5" r="8.9" stroke-width="1.8" fill="none"/>
<path d="M576 1737 L576 1748" stroke-width="1.8" fill="none"/>
<path d="M576 1739 L584 1734" stroke-width="1.5" fill="none"/>
<path d="M576 1746 L584 1751" stroke-width="1.5" fill="none"/>
<path d="M492.3 1740 L497 1740" stroke-width="1.6" fill="none"/>
<text x="516" y="1779.7" font-size="16" font-weight="bold" letter-spacing="2.5">G2</text>
<g class="leg">
<text x="902.2" y="258.7" font-size="12" font-weight="bold" style="letter-spacing:0.8px">A 1</text>
<text x="966.4" y="258.7" font-size="12" font-weight="bold">Instrument cluster</text>
<text x="922.4" y="274.5" font-size="12" font-weight="bold" style="letter-spacing:0.8px">e 1</text>
<text x="966.5" y="274.5" font-size="12" font-weight="bold">Turn signal indicator, left</text>
<text x="922.4" y="290.4" font-size="12" font-weight="bold" style="letter-spacing:0.8px">e 2</text>
<text x="966.5" y="290.4" font-size="12" font-weight="bold">Turn signal indicator, right</text>
<text x="922.5" y="306.2" font-size="12" font-weight="bold" style="letter-spacing:0.8px">e 3</text>
<text x="966.6" y="306.2" font-size="12" font-weight="bold">High beam indicator</text>
<text x="922.5" y="322" font-size="12" font-weight="bold" style="letter-spacing:0.8px">e 4</text>
<text x="966.6" y="322" font-size="12" font-weight="bold">Fuel reserve indicator</text>
<text x="922.6" y="337.8" font-size="12" font-weight="bold" style="letter-spacing:0.8px">e 5</text>
<text x="966.7" y="337.8" font-size="12" font-weight="bold">Charge indicator</text>
<text x="922.7" y="353.7" font-size="12" font-weight="bold" style="letter-spacing:0.8px">e 6</text>
<text x="966.8" y="353.7" font-size="12" font-weight="bold">Brake pad wear indicator</text>
<text x="922.7" y="369.5" font-size="12" font-weight="bold" style="letter-spacing:0.8px">e 7</text>
<text x="966.8" y="369.5" font-size="12" font-weight="bold">Brake fluid and parking brake indicator</text>
<text x="922.8" y="385.3" font-size="12" font-weight="bold" style="letter-spacing:0.8px">e 8</text>
<text x="966.9" y="385.3" font-size="12" font-weight="bold">Instrument illumination</text>
<text x="922.8" y="401.2" font-size="12" font-weight="bold" style="letter-spacing:0.8px">e 9</text>
<text x="966.9" y="401.2" font-size="12" font-weight="bold">Safety belt warning light</text>
<text x="922.9" y="417" font-size="12" font-weight="bold" style="letter-spacing:0.8px">e 10</text>
<text x="967" y="417" font-size="12" font-weight="bold">O<tspan font-size="8" dy="2.5">2</tspan><tspan dy="-2.5">-sensor indicator lamp</tspan></text>
<text x="922.9" y="432.8" font-size="12" font-weight="bold" style="letter-spacing:0.8px">e 11</text>
<text x="967" y="432.8" font-size="12" font-weight="bold">Low coolant level indicator</text>
<text x="923" y="448.6" font-size="12" font-weight="bold" style="letter-spacing:0.8px">e 12</text>
<text x="967.1" y="448.6" font-size="12" font-weight="bold">Low oil level indicator</text>
<text x="923.1" y="464.5" font-size="12" font-weight="bold" style="letter-spacing:0.8px">e 13</text>
<text x="967.2" y="464.5" font-size="12" font-weight="bold">Low windshield washer fluid level indicator</text>
<text x="923.1" y="480.3" font-size="12" font-weight="bold" style="letter-spacing:0.8px">e 15</text>
<text x="967.2" y="480.3" font-size="12" font-weight="bold">SRS indicator</text>
<text x="923.2" y="496.1" font-size="12" font-weight="bold" style="letter-spacing:0.8px">h 1</text>
<text x="967.3" y="496.1" font-size="12" font-weight="bold">Warning buzzer</text>
<text x="923.2" y="511.9" font-size="12" font-weight="bold" style="letter-spacing:0.8px">h 2</text>
<text x="967.3" y="511.9" font-size="12" font-weight="bold">Audible turn signal indicator</text>
<text x="923.3" y="527.8" font-size="12" font-weight="bold" style="letter-spacing:0.8px">p 1</text>
<text x="967.4" y="527.8" font-size="12" font-weight="bold">Coolant temperature gauge</text>
<text x="923.4" y="543.6" font-size="12" font-weight="bold" style="letter-spacing:0.8px">p 2</text>
<text x="967.5" y="543.6" font-size="12" font-weight="bold">Fuel level gauge</text>
<text x="923.4" y="559.4" font-size="12" font-weight="bold" style="letter-spacing:0.8px">p 3</text>
<text x="967.5" y="559.4" font-size="12" font-weight="bold">Oil pressure gauge</text>
<text x="923.5" y="575.3" font-size="12" font-weight="bold" style="letter-spacing:0.8px">p 7</text>
<text x="967.6" y="575.3" font-size="12" font-weight="bold">Electronic clock/tachometer</text>
<text x="923.5" y="591.1" font-size="12" font-weight="bold" style="letter-spacing:0.8px">r 1</text>
<text x="967.6" y="591.1" font-size="12" font-weight="bold">Instruments illumination rheostat</text>
<text x="903.5" y="606.9" font-size="12" font-weight="bold" style="letter-spacing:0.8px">A2</text>
<text x="967.7" y="606.9" font-size="12" font-weight="bold">Radio</text>
<text x="903.6" y="622.7" font-size="12" font-weight="bold" style="letter-spacing:0.8px">A9</text>
<text x="967.8" y="622.7" font-size="12" font-weight="bold">A/C compressor</text>
<text x="923.7" y="638.6" font-size="12" font-weight="bold" style="letter-spacing:0.8px">k 1</text>
<text x="967.8" y="638.6" font-size="12" font-weight="bold">Electromagnetic clutch</text>
<text x="923.8" y="654.4" font-size="12" font-weight="bold" style="letter-spacing:0.8px">l 1</text>
<text x="967.9" y="654.4" font-size="12" font-weight="bold">RPM sensor</text>
<text x="903.8" y="686.5" font-size="12" font-weight="bold" style="letter-spacing:0.8px">B2</text>
<text x="968" y="686.5" font-size="12" font-weight="bold">Air flow sensor position indicator</text>
<text x="903.9" y="702.2" font-size="12" font-weight="bold" style="letter-spacing:0.8px">B4</text>
<text x="968.1" y="702.2" font-size="12" font-weight="bold">Fuel level sensor</text>
<text x="903.9" y="717.9" font-size="12" font-weight="bold" style="letter-spacing:0.8px">B5</text>
<text x="968.1" y="717.9" font-size="12" font-weight="bold">Oil pressure sensor</text>
<text x="904" y="733.6" font-size="12" font-weight="bold" style="letter-spacing:0.8px">B6</text>
<text x="968.2" y="733.6" font-size="12" font-weight="bold">Hall-effect speed sensor</text>
<text x="904" y="749.4" font-size="12" font-weight="bold" style="letter-spacing:0.8px">B 10/4</text>
<text x="968.2" y="749.4" font-size="12" font-weight="bold">In-car temperature sensor</text>
<text x="904.1" y="765.1" font-size="12" font-weight="bold" style="letter-spacing:0.8px">B 10/5</text>
<text x="968.3" y="765.1" font-size="12" font-weight="bold">Outside temperature sensor</text>
<text x="904.1" y="780.8" font-size="12" font-weight="bold" style="letter-spacing:0.8px">B 10/6</text>
<text x="968.3" y="780.8" font-size="12" font-weight="bold">Evaporator temperature sensor</text>
<text x="904.2" y="796.5" font-size="12" font-weight="bold" style="letter-spacing:0.8px">B 11/2</text>
<text x="968.4" y="796.5" font-size="12" font-weight="bold">Coolant temperature sensor (EZL/CIS-E)</text>
<text x="904.3" y="812.2" font-size="12" font-weight="bold" style="letter-spacing:0.8px">B 13</text>
<text x="968.5" y="812.2" font-size="12" font-weight="bold">Coolant temperature gauge sensor</text>
<text x="904.3" y="827.9" font-size="12" font-weight="bold" style="letter-spacing:0.8px">B 16</text>
<text x="968.5" y="827.9" font-size="12" font-weight="bold">Altitude correction capsule</text>
<text x="904.4" y="859.3" font-size="12" font-weight="bold" style="letter-spacing:0.8px">C 1</text>
<text x="968.6" y="859.3" font-size="12" font-weight="bold">SRS energy accumulator</text>
<text x="904.6" y="890.8" font-size="12" font-weight="bold" style="letter-spacing:0.8px">E 1</text>
<text x="968.8" y="890.8" font-size="12" font-weight="bold">Left headlamp unit</text>
<text x="924.7" y="906.5" font-size="12" font-weight="bold" style="letter-spacing:0.8px">e 1</text>
<text x="968.8" y="906.5" font-size="12" font-weight="bold">High beam</text>
<text x="924.8" y="922.2" font-size="12" font-weight="bold" style="letter-spacing:0.8px">e 2</text>
<text x="968.9" y="922.2" font-size="12" font-weight="bold">Low beam</text>
<text x="924.8" y="937.9" font-size="12" font-weight="bold" style="letter-spacing:0.8px">e 3</text>
<text x="968.9" y="937.9" font-size="12" font-weight="bold">Standing/parking lamp</text>
<text x="924.9" y="953.6" font-size="12" font-weight="bold" style="letter-spacing:0.8px">e 4</text>
<text x="969" y="953.6" font-size="12" font-weight="bold">Fog lamp</text>
<text x="924.9" y="969.3" font-size="12" font-weight="bold" style="letter-spacing:0.8px">e 5</text>
<text x="969" y="969.3" font-size="12" font-weight="bold">Turn signal lamp</text>
<text x="904.9" y="985.1" font-size="12" font-weight="bold" style="letter-spacing:0.8px">E2</text>
<text x="969.1" y="985.1" font-size="12" font-weight="bold">Right headlamp unit</text>
<text x="925.1" y="1000.8" font-size="12" font-weight="bold" style="letter-spacing:0.8px">e 1</text>
<text x="969.2" y="1000.8" font-size="12" font-weight="bold">High beam</text>
<text x="925.1" y="1016.5" font-size="12" font-weight="bold" style="letter-spacing:0.8px">e 2</text>
<text x="969.2" y="1016.5" font-size="12" font-weight="bold">Low beam</text>
<text x="925.2" y="1032.2" font-size="12" font-weight="bold" style="letter-spacing:0.8px">e 3</text>
<text x="969.3" y="1032.2" font-size="12" font-weight="bold">Standing/parking lamp</text>
<text x="925.2" y="1047.9" font-size="12" font-weight="bold" style="letter-spacing:0.8px">e 4</text>
<text x="969.3" y="1047.9" font-size="12" font-weight="bold">Fog lamp</text>
<text x="925.3" y="1063.6" font-size="12" font-weight="bold" style="letter-spacing:0.8px">e 5</text>
<text x="969.4" y="1063.6" font-size="12" font-weight="bold">Turn signal lamp</text>
<text x="905.3" y="1079.3" font-size="12" font-weight="bold" style="letter-spacing:0.8px">E3</text>
<text x="969.5" y="1079.3" font-size="12" font-weight="bold">Left taillamp unit</text>
<text x="925.4" y="1095.1" font-size="12" font-weight="bold" style="letter-spacing:0.8px">e 1</text>
<text x="969.5" y="1095.1" font-size="12" font-weight="bold">Turn signal lamp</text>
<text x="925.5" y="1110.8" font-size="12" font-weight="bold" style="letter-spacing:0.8px">e 2</text>
<text x="969.6" y="1110.8" font-size="12" font-weight="bold">Tail/parking lamp</text>
<text x="925.5" y="1126.5" font-size="12" font-weight="bold" style="letter-spacing:0.8px">e 3</text>
<text x="969.6" y="1126.5" font-size="12" font-weight="bold">Backup lamp</text>
<text x="925.6" y="1142.2" font-size="12" font-weight="bold" style="letter-spacing:0.8px">e 4</text>
<text x="969.7" y="1142.2" font-size="12" font-weight="bold">Stop lamp</text>
<text x="925.7" y="1157.9" font-size="12" font-weight="bold" style="letter-spacing:0.8px">e 6</text>
<text x="969.8" y="1157.9" font-size="12" font-weight="bold">Left side marker lamp</text>
<text x="905.6" y="1173.6" font-size="12" font-weight="bold" style="letter-spacing:0.8px">E4</text>
<text x="969.8" y="1173.6" font-size="12" font-weight="bold">Right taillamp unit</text>
<text x="925.8" y="1189.3" font-size="12" font-weight="bold" style="letter-spacing:0.8px">e 1</text>
<text x="969.9" y="1189.3" font-size="12" font-weight="bold">Turn signal lamp</text>
<text x="925.8" y="1205" font-size="12" font-weight="bold" style="letter-spacing:0.8px">e 2</text>
<text x="969.9" y="1205" font-size="12" font-weight="bold">Tail/parking lamp</text>
<text x="925.9" y="1220.8" font-size="12" font-weight="bold" style="letter-spacing:0.8px">e 3</text>
<text x="970" y="1220.8" font-size="12" font-weight="bold">Backup lamp</text>
<text x="925.9" y="1236.5" font-size="12" font-weight="bold" style="letter-spacing:0.8px">e 4</text>
<text x="970" y="1236.5" font-size="12" font-weight="bold">Stop lamp</text>
<text x="926" y="1252.2" font-size="12" font-weight="bold" style="letter-spacing:0.8px">e 6</text>
<text x="970.1" y="1252.2" font-size="12" font-weight="bold">Right side marker lamp</text>
<text x="906" y="1267.9" font-size="12" font-weight="bold" style="letter-spacing:0.8px">E9/1</text>
<text x="970.2" y="1267.9" font-size="12" font-weight="bold">Heater control illumination</text>
<text x="906" y="1283.5" font-size="12" font-weight="bold" style="letter-spacing:0.8px">E 12</text>
<text x="970.2" y="1283.5" font-size="12" font-weight="bold">Shift pattern illumination</text>
<text x="906.1" y="1299.2" font-size="12" font-weight="bold" style="letter-spacing:0.8px">E 13/1</text>
<text x="970.3" y="1299.2" font-size="12" font-weight="bold">Glove box lamp</text>
<text x="906.1" y="1314.8" font-size="12" font-weight="bold" style="letter-spacing:0.8px">E 15/2</text>
<text x="970.3" y="1314.8" font-size="12" font-weight="bold">Front dome lamp with shut-off delay and</text>
<text x="970.4" y="1330.5" font-size="12" font-weight="bold">reading lamp</text>
<text x="906.3" y="1346.1" font-size="12" font-weight="bold" style="letter-spacing:0.8px">E 15/3</text>
<text x="970.5" y="1346.1" font-size="12" font-weight="bold">Rear dome lamp</text>
<text x="906.3" y="1361.8" font-size="12" font-weight="bold" style="letter-spacing:0.8px">E 18/2</text>
<text x="970.5" y="1361.8" font-size="12" font-weight="bold">Trunk lamp with switch</text>
<text x="906.4" y="1377.4" font-size="12" font-weight="bold" style="letter-spacing:0.8px">E 19/1</text>
<text x="970.6" y="1377.4" font-size="12" font-weight="bold">Left license plate lamp</text>
<text x="906.4" y="1393.1" font-size="12" font-weight="bold" style="letter-spacing:0.8px">E 19/2</text>
<text x="970.6" y="1393.1" font-size="12" font-weight="bold">Right license plate lamp</text>
<text x="906.5" y="1408.7" font-size="12" font-weight="bold" style="letter-spacing:0.8px">E21</text>
<text x="970.7" y="1408.7" font-size="12" font-weight="bold">Center high mounted stop lamp</text>
<text x="906.6" y="1440" font-size="12" font-weight="bold" style="letter-spacing:0.8px">F 1</text>
<text x="970.8" y="1440" font-size="12" font-weight="bold">Electrical center</text>
<text x="970.9" y="1455.6" font-size="12" font-weight="bold">Fuse 1, terminal 15X</text>
<text x="970.9" y="1471.1" font-size="12" font-weight="bold">Fuse 2, terminal 15T</text>
<text x="971" y="1486.7" font-size="12" font-weight="bold">Fuse 3, terminal 30</text>
</g>
</svg>
</body></html>
